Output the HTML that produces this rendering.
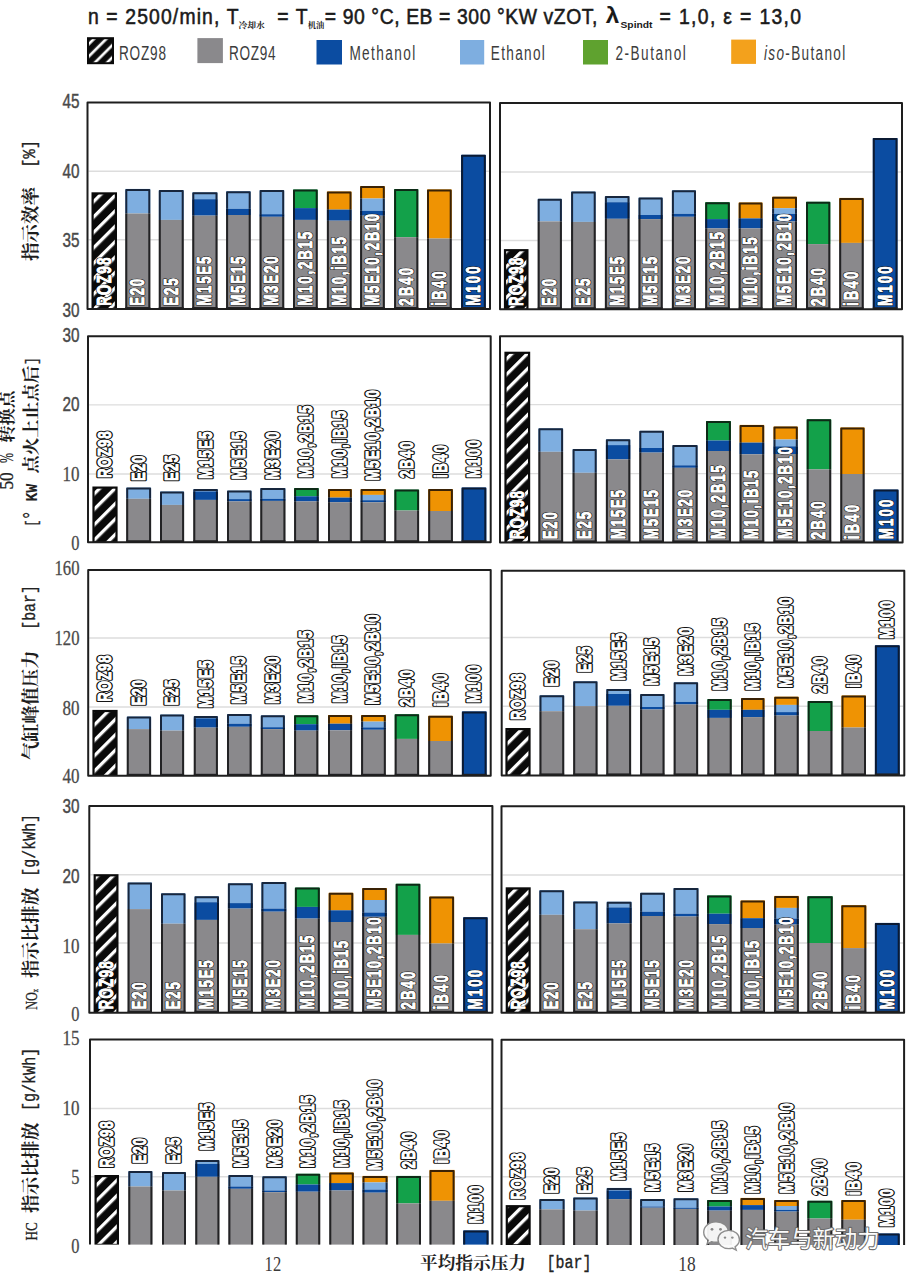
<!DOCTYPE html>
<html><head><meta charset="utf-8"><title>chart</title>
<style>
html,body{margin:0;padding:0;background:#fff;}
body{width:911px;height:1280px;overflow:hidden;position:relative;}
svg{position:absolute;left:0;top:0;}
.lb{font-family:"Liberation Sans",sans-serif;font-weight:bold;font-size:19px;fill:#fff;stroke:#151515;paint-order:stroke;stroke-linejoin:round;}
.tk{font-family:"Liberation Sans",sans-serif;font-size:19.5px;fill:#4a4a4a;stroke:#4a4a4a;stroke-width:0.45px;}
.lg{font-family:"Liberation Sans",sans-serif;font-size:20px;fill:#3c3c3c;}
.ti{font-family:"Liberation Sans",sans-serif;font-weight:normal;font-size:21.5px;fill:#1a1a1a;stroke:#1a1a1a;stroke-width:0.55px;}
.cj{font-family:"Liberation Serif","Noto Serif CJK SC",serif;fill:#222;font-weight:700;}
</style></head>
<body>
<svg width="911" height="1280" viewBox="0 0 911 1280">
<defs>
<pattern id="hatch0" patternUnits="userSpaceOnUse" width="10.9" height="10.9" patternTransform="rotate(-45 0 0)"><rect width="10.9" height="10.9" fill="#0a0a0a"/><rect x="0" y="0" width="10.9" height="3.3" fill="#fff"/></pattern>
<pattern id="hatch1" patternUnits="userSpaceOnUse" width="10.9" height="10.9" patternTransform="rotate(-45 0 0)"><rect width="10.9" height="10.9" fill="#0a0a0a"/><rect x="0" y="0" width="10.9" height="3.3" fill="#fff"/></pattern>
<pattern id="hatch2" patternUnits="userSpaceOnUse" width="10.9" height="10.9" patternTransform="rotate(-45 0 0)"><rect width="10.9" height="10.9" fill="#0a0a0a"/><rect x="0" y="0" width="10.9" height="3.3" fill="#fff"/></pattern>
<pattern id="hatch3" patternUnits="userSpaceOnUse" width="10.9" height="10.9" patternTransform="rotate(-45 0 0)"><rect width="10.9" height="10.9" fill="#0a0a0a"/><rect x="0" y="0" width="10.9" height="3.3" fill="#fff"/></pattern>
<pattern id="hatch4" patternUnits="userSpaceOnUse" width="10.9" height="10.9" patternTransform="rotate(-45 0 0)"><rect width="10.9" height="10.9" fill="#0a0a0a"/><rect x="0" y="0" width="10.9" height="3.3" fill="#fff"/></pattern>
<pattern id="hatch5" patternUnits="userSpaceOnUse" width="10.9" height="10.9" patternTransform="rotate(-45 0 0)"><rect width="10.9" height="10.9" fill="#0a0a0a"/><rect x="0" y="0" width="10.9" height="3.3" fill="#fff"/></pattern>
<pattern id="hatch6" patternUnits="userSpaceOnUse" width="10.9" height="10.9" patternTransform="rotate(-45 0 0)"><rect width="10.9" height="10.9" fill="#0a0a0a"/><rect x="0" y="0" width="10.9" height="3.3" fill="#fff"/></pattern>
<pattern id="hatch7" patternUnits="userSpaceOnUse" width="10.9" height="10.9" patternTransform="rotate(-45 0 0)"><rect width="10.9" height="10.9" fill="#0a0a0a"/><rect x="0" y="0" width="10.9" height="3.3" fill="#fff"/></pattern>
<pattern id="hatch8" patternUnits="userSpaceOnUse" width="10.9" height="10.9" patternTransform="rotate(-45 0 0)"><rect width="10.9" height="10.9" fill="#0a0a0a"/><rect x="0" y="0" width="10.9" height="3.3" fill="#fff"/></pattern>
<pattern id="hatch9" patternUnits="userSpaceOnUse" width="10.9" height="10.9" patternTransform="rotate(-45 0 0)"><rect width="10.9" height="10.9" fill="#0a0a0a"/><rect x="0" y="0" width="10.9" height="3.3" fill="#fff"/></pattern>
<pattern id="hatchL" patternUnits="userSpaceOnUse" width="8.7" height="8.7" patternTransform="rotate(-45 0 0)"><rect width="8.7" height="8.7" fill="#0a0a0a"/><rect x="0" y="5.6" width="8.7" height="2.7" fill="#fff"/></pattern>
</defs>
<rect width="911" height="1280" fill="#fff"/>
<!-- title -->
<text class="ti" transform="translate(87.9 24.4) scale(0.9 1)" textLength="167.33" lengthAdjust="spacing">n = 2500/min, T</text>
<text class="cj" x="238.6" y="28.3" font-size="8.5" textLength="26.3" lengthAdjust="spacingAndGlyphs" font-weight="bold">冷却水</text>
<text class="ti" transform="translate(277.3 24.4) scale(0.9 1)" textLength="33.56" lengthAdjust="spacing">= T</text>
<text class="cj" x="307.7" y="28.3" font-size="8.5" textLength="16.5" lengthAdjust="spacingAndGlyphs" font-weight="bold">机油</text>
<text class="ti" transform="translate(324.8 24.4) scale(0.9 1)" textLength="303" lengthAdjust="spacing">= 90 °C, EB = 300 °KW vZOT,</text>
<text class="ti" x="605.8" y="23.2" style="font-size:21.5px;font-weight:bold;stroke-width:0" textLength="13.5" lengthAdjust="spacingAndGlyphs">λ</text>
<text class="ti" x="620.5" y="27.6" style="font-size:9.6px;font-weight:bold;stroke-width:0" textLength="32" lengthAdjust="spacingAndGlyphs">Spindt</text>
<text class="ti" transform="translate(659.6 24.4) scale(0.9 1)" textLength="157.22" lengthAdjust="spacing">= 1,0, ε = 13,0</text>
<!-- legend -->
<rect x="88" y="38.2" width="25" height="25" fill="url(#hatchL)" stroke="#0a0a0a" stroke-width="2"/>
<text class="lg" transform="translate(119 59.7) scale(0.68 1)" textLength="69.12" lengthAdjust="spacing">ROZ98</text>
<rect x="197.4" y="38.1" width="25.5" height="25" fill="#8a898c"/>
<text class="lg" transform="translate(229 59.7) scale(0.68 1)" textLength="68.53" lengthAdjust="spacing">ROZ94</text>
<rect x="316.5" y="40" width="25.5" height="24.5" fill="#0b4ca1"/>
<text class="lg" transform="translate(349.4 59.7) scale(0.68 1)" textLength="96.77" lengthAdjust="spacing">Methanol</text>
<rect x="460" y="40" width="24.2" height="24.5" fill="#7eaee0"/>
<text class="lg" transform="translate(490.8 59.7) scale(0.68 1)" textLength="79.41" lengthAdjust="spacing">Ethanol</text>
<rect x="583" y="40" width="25" height="24.5" fill="#5fa22f"/>
<text class="lg" transform="translate(615.4 59.7) scale(0.68 1)" textLength="103.53" lengthAdjust="spacing">2-Butanol</text>
<rect x="731.2" y="39.6" width="24.8" height="24.3" fill="#f3a11c"/>
<text class="lg" transform="translate(764 59.7) scale(0.68 1)" textLength="119.56" lengthAdjust="spacing"><tspan font-style="italic">iso</tspan>-Butanol</text>
<!-- panels -->
<clipPath id="c0"><rect x="87.5" y="102.4" width="402.5" height="206.6"/></clipPath>
<line x1="88.5" y1="171.3" x2="489" y2="171.3" stroke="#dddddd" stroke-width="1.4"/>
<line x1="88.5" y1="239.8" x2="489" y2="239.8" stroke="#dddddd" stroke-width="1.4"/>
<rect x="91.5" y="192.3" width="25.5" height="116.7" fill="#0a0a0a"/>
<rect x="93.7" y="194.5" width="21.1" height="113.7" fill="url(#hatch0)"/>
<rect x="125.3" y="188.9" width="25" height="24.6" fill="#7eaee0"/>
<rect x="125.3" y="213.5" width="25" height="95.5" fill="#8a898c"/>
<path d="M126.3 213.5 V189.9 H149.3 V213.5" fill="none" stroke="#17263d" stroke-width="2" stroke-linejoin="round"/>
<path d="M126.3 213.5 V308 M149.3 213.5 V308" fill="none" stroke="#222224" stroke-width="2"/>
<line x1="125.3" y1="308" x2="150.3" y2="308" stroke="#222224" stroke-width="2"/>
<rect x="158.8" y="190" width="24.9" height="29.9" fill="#7eaee0"/>
<rect x="158.8" y="219.9" width="24.9" height="89.1" fill="#8a898c"/>
<path d="M159.8 219.9 V191 H182.7 V219.9" fill="none" stroke="#17263d" stroke-width="2" stroke-linejoin="round"/>
<path d="M159.8 219.9 V308 M182.7 219.9 V308" fill="none" stroke="#222224" stroke-width="2"/>
<line x1="158.8" y1="308" x2="183.7" y2="308" stroke="#222224" stroke-width="2"/>
<rect x="192.3" y="192.3" width="25.2" height="6.9" fill="#7eaee0"/>
<rect x="192.3" y="199.2" width="25.2" height="16.4" fill="#0b4ca1"/>
<rect x="192.3" y="215.6" width="25.2" height="93.4" fill="#8a898c"/>
<path d="M193.3 199.2 V193.3 H216.5 V199.2" fill="none" stroke="#17263d" stroke-width="2" stroke-linejoin="round"/>
<path d="M193.3 199.2 V215.6 M216.5 199.2 V215.6" fill="none" stroke="#0b1a33" stroke-width="2"/>
<path d="M193.3 215.6 V308 M216.5 215.6 V308" fill="none" stroke="#222224" stroke-width="2"/>
<line x1="192.3" y1="308" x2="217.5" y2="308" stroke="#222224" stroke-width="2"/>
<rect x="226.1" y="191.2" width="24.6" height="17.6" fill="#7eaee0"/>
<rect x="226.1" y="208.8" width="24.6" height="6.2" fill="#0b4ca1"/>
<rect x="226.1" y="215" width="24.6" height="94" fill="#8a898c"/>
<path d="M227.1 208.8 V192.2 H249.7 V208.8" fill="none" stroke="#17263d" stroke-width="2" stroke-linejoin="round"/>
<path d="M227.1 208.8 V215 M249.7 208.8 V215" fill="none" stroke="#0b1a33" stroke-width="2"/>
<path d="M227.1 215 V308 M249.7 215 V308" fill="none" stroke="#222224" stroke-width="2"/>
<line x1="226.1" y1="308" x2="250.7" y2="308" stroke="#222224" stroke-width="2"/>
<rect x="259.6" y="190" width="24.6" height="24.2" fill="#7eaee0"/>
<rect x="259.6" y="214.2" width="24.6" height="2.6" fill="#0b4ca1"/>
<rect x="259.6" y="216.8" width="24.6" height="92.2" fill="#8a898c"/>
<path d="M260.6 214.2 V191 H283.2 V214.2" fill="none" stroke="#17263d" stroke-width="2" stroke-linejoin="round"/>
<path d="M260.6 214.2 V216.8 M283.2 214.2 V216.8" fill="none" stroke="#0b1a33" stroke-width="2"/>
<path d="M260.6 216.8 V308 M283.2 216.8 V308" fill="none" stroke="#222224" stroke-width="2"/>
<line x1="259.6" y1="308" x2="284.2" y2="308" stroke="#222224" stroke-width="2"/>
<rect x="293" y="189.5" width="24.7" height="18.6" fill="#13a14a"/>
<rect x="293" y="208.1" width="24.7" height="11.8" fill="#0b4ca1"/>
<rect x="293" y="219.9" width="24.7" height="89.1" fill="#8a898c"/>
<path d="M294 208.1 V190.5 H316.7 V208.1" fill="none" stroke="#0d2a16" stroke-width="2" stroke-linejoin="round"/>
<path d="M294 208.1 V219.9 M316.7 208.1 V219.9" fill="none" stroke="#0b1a33" stroke-width="2"/>
<path d="M294 219.9 V308 M316.7 219.9 V308" fill="none" stroke="#222224" stroke-width="2"/>
<line x1="293" y1="308" x2="317.7" y2="308" stroke="#222224" stroke-width="2"/>
<rect x="326.9" y="191.5" width="24.6" height="18.1" fill="#ef9303"/>
<rect x="326.9" y="209.6" width="24.6" height="11.1" fill="#0b4ca1"/>
<rect x="326.9" y="220.7" width="24.6" height="88.3" fill="#8a898c"/>
<path d="M327.9 209.6 V192.5 H350.5 V209.6" fill="none" stroke="#3a2205" stroke-width="2" stroke-linejoin="round"/>
<path d="M327.9 209.6 V220.7 M350.5 209.6 V220.7" fill="none" stroke="#0b1a33" stroke-width="2"/>
<path d="M327.9 220.7 V308 M350.5 220.7 V308" fill="none" stroke="#222224" stroke-width="2"/>
<line x1="326.9" y1="308" x2="351.5" y2="308" stroke="#222224" stroke-width="2"/>
<rect x="360.1" y="186.1" width="24.7" height="12.4" fill="#ef9303"/>
<rect x="360.1" y="198.5" width="24.7" height="12.3" fill="#7eaee0"/>
<rect x="360.1" y="210.8" width="24.7" height="4.9" fill="#0b4ca1"/>
<rect x="360.1" y="215.7" width="24.7" height="93.3" fill="#8a898c"/>
<path d="M361.1 198.5 V187.1 H383.8 V198.5" fill="none" stroke="#3a2205" stroke-width="2" stroke-linejoin="round"/>
<path d="M361.1 198.5 V210.8 M383.8 198.5 V210.8" fill="none" stroke="#17263d" stroke-width="2"/>
<path d="M361.1 210.8 V215.7 M383.8 210.8 V215.7" fill="none" stroke="#0b1a33" stroke-width="2"/>
<path d="M361.1 215.7 V308 M383.8 215.7 V308" fill="none" stroke="#222224" stroke-width="2"/>
<line x1="360.1" y1="308" x2="384.8" y2="308" stroke="#222224" stroke-width="2"/>
<rect x="394.1" y="189.1" width="24.2" height="48.1" fill="#13a14a"/>
<rect x="394.1" y="237.2" width="24.2" height="71.8" fill="#8a898c"/>
<path d="M395.1 237.2 V190.1 H417.3 V237.2" fill="none" stroke="#0d2a16" stroke-width="2" stroke-linejoin="round"/>
<path d="M395.1 237.2 V308 M417.3 237.2 V308" fill="none" stroke="#222224" stroke-width="2"/>
<line x1="394.1" y1="308" x2="418.3" y2="308" stroke="#222224" stroke-width="2"/>
<rect x="427" y="189.4" width="24.7" height="49.1" fill="#ef9303"/>
<rect x="427" y="238.5" width="24.7" height="70.5" fill="#8a898c"/>
<path d="M428 238.5 V190.4 H450.7 V238.5" fill="none" stroke="#3a2205" stroke-width="2" stroke-linejoin="round"/>
<path d="M428 238.5 V308 M450.7 238.5 V308" fill="none" stroke="#222224" stroke-width="2"/>
<line x1="427" y1="308" x2="451.7" y2="308" stroke="#222224" stroke-width="2"/>
<rect x="461.1" y="154.8" width="24.7" height="154.2" fill="#0b4ca1"/>
<path d="M462.1 308 V155.8 H484.8 V308" fill="none" stroke="#0b1a33" stroke-width="2" stroke-linejoin="round"/>
<line x1="461.1" y1="308" x2="485.8" y2="308" stroke="#222224" stroke-width="2"/>
<rect x="87.5" y="102.4" width="402.5" height="206.6" fill="none" stroke="#1e1e1e" stroke-width="2" stroke-linejoin="round"/>
<text transform="translate(110.79 305.8) rotate(-90) scale(0.65 1)" class="lb" textLength="73.98" lengthAdjust="spacing" stroke-width="2.2" style="font-size:20.5px">ROZ98</text>
<text transform="translate(110.79 305.8) rotate(-90) scale(0.65 1)" class="lb" textLength="73.98" lengthAdjust="spacing" stroke-width="0.7" style="stroke:#fff;font-size:20.5px">ROZ98</text>
<text transform="translate(144.34 305.8) rotate(-90) scale(0.65 1)" class="lb" textLength="41.62" lengthAdjust="spacing" stroke-width="2.2" style="font-size:20.5px">E20</text>
<text transform="translate(144.34 305.8) rotate(-90) scale(0.65 1)" class="lb" textLength="41.62" lengthAdjust="spacing" stroke-width="0.7" style="stroke:#fff;font-size:20.5px">E20</text>
<text transform="translate(177.79 305.8) rotate(-90) scale(0.65 1)" class="lb" textLength="42.08" lengthAdjust="spacing" stroke-width="2.2" style="font-size:20.5px">E25</text>
<text transform="translate(177.79 305.8) rotate(-90) scale(0.65 1)" class="lb" textLength="42.08" lengthAdjust="spacing" stroke-width="0.7" style="stroke:#fff;font-size:20.5px">E25</text>
<text transform="translate(211.44 305.8) rotate(-90) scale(0.65 1)" class="lb" textLength="75.53" lengthAdjust="spacing" stroke-width="2.2" style="font-size:20.5px">M15E5</text>
<text transform="translate(211.44 305.8) rotate(-90) scale(0.65 1)" class="lb" textLength="75.53" lengthAdjust="spacing" stroke-width="0.7" style="stroke:#fff;font-size:20.5px">M15E5</text>
<text transform="translate(244.94 305.8) rotate(-90) scale(0.65 1)" class="lb" textLength="75.68" lengthAdjust="spacing" stroke-width="2.2" style="font-size:20.5px">M5E15</text>
<text transform="translate(244.94 305.8) rotate(-90) scale(0.65 1)" class="lb" textLength="75.68" lengthAdjust="spacing" stroke-width="0.7" style="stroke:#fff;font-size:20.5px">M5E15</text>
<text transform="translate(278.44 305.8) rotate(-90) scale(0.65 1)" class="lb" textLength="75.99" lengthAdjust="spacing" stroke-width="2.2" style="font-size:20.5px">M3E20</text>
<text transform="translate(278.44 305.8) rotate(-90) scale(0.65 1)" class="lb" textLength="75.99" lengthAdjust="spacing" stroke-width="0.7" style="stroke:#fff;font-size:20.5px">M3E20</text>
<text transform="translate(311.89 305.8) rotate(-90) scale(0.65 1)" class="lb" textLength="113.75" lengthAdjust="spacing" stroke-width="2.2" style="font-size:20.5px">M10,2B15</text>
<text transform="translate(311.89 305.8) rotate(-90) scale(0.65 1)" class="lb" textLength="113.75" lengthAdjust="spacing" stroke-width="0.7" style="stroke:#fff;font-size:20.5px">M10,2B15</text>
<text transform="translate(345.74 305.8) rotate(-90) scale(0.65 1)" class="lb" textLength="105.58" lengthAdjust="spacing" stroke-width="2.2" style="font-size:20.5px">M10,iB15</text>
<text transform="translate(345.74 305.8) rotate(-90) scale(0.65 1)" class="lb" textLength="105.58" lengthAdjust="spacing" stroke-width="0.7" style="stroke:#fff;font-size:20.5px">M10,iB15</text>
<text transform="translate(378.99 305.8) rotate(-90) scale(0.65 1)" class="lb" textLength="141.65" lengthAdjust="spacing" stroke-width="2.2" style="font-size:20.5px">M5E10,2B10</text>
<text transform="translate(378.99 305.8) rotate(-90) scale(0.65 1)" class="lb" textLength="141.65" lengthAdjust="spacing" stroke-width="0.7" style="stroke:#fff;font-size:20.5px">M5E10,2B10</text>
<text transform="translate(412.74 305.8) rotate(-90) scale(0.65 1)" class="lb" textLength="58.42" lengthAdjust="spacing" stroke-width="2.2" style="font-size:20.5px">2B40</text>
<text transform="translate(412.74 305.8) rotate(-90) scale(0.65 1)" class="lb" textLength="58.42" lengthAdjust="spacing" stroke-width="0.7" style="stroke:#fff;font-size:20.5px">2B40</text>
<text transform="translate(445.89 305.8) rotate(-90) scale(0.65 1)" class="lb" textLength="52.87" lengthAdjust="spacing" stroke-width="2.2" style="font-size:20.5px">iB40</text>
<text transform="translate(445.89 305.8) rotate(-90) scale(0.65 1)" class="lb" textLength="52.87" lengthAdjust="spacing" stroke-width="0.7" style="stroke:#fff;font-size:20.5px">iB40</text>
<text transform="translate(479.99 305.8) rotate(-90) scale(0.65 1)" class="lb" textLength="60.88" lengthAdjust="spacing" stroke-width="2.2" style="font-size:20.5px">M100</text>
<text transform="translate(479.99 305.8) rotate(-90) scale(0.65 1)" class="lb" textLength="60.88" lengthAdjust="spacing" stroke-width="0.7" style="stroke:#fff;font-size:20.5px">M100</text>
<clipPath id="c1"><rect x="500" y="103" width="402" height="206.2"/></clipPath>
<line x1="501" y1="172" x2="901" y2="172" stroke="#dddddd" stroke-width="1.4"/>
<line x1="501" y1="240.5" x2="901" y2="240.5" stroke="#dddddd" stroke-width="1.4"/>
<rect x="503.9" y="249.1" width="24.6" height="60.1" fill="#0a0a0a"/>
<rect x="506.1" y="251.3" width="20.2" height="57.1" fill="url(#hatch1)"/>
<rect x="537.7" y="198.8" width="24.2" height="22.6" fill="#7eaee0"/>
<rect x="537.7" y="221.4" width="24.2" height="87.8" fill="#8a898c"/>
<path d="M538.7 221.4 V199.8 H560.9 V221.4" fill="none" stroke="#17263d" stroke-width="2" stroke-linejoin="round"/>
<path d="M538.7 221.4 V308.2 M560.9 221.4 V308.2" fill="none" stroke="#222224" stroke-width="2"/>
<line x1="537.7" y1="308.2" x2="561.9" y2="308.2" stroke="#222224" stroke-width="2"/>
<rect x="571.1" y="191.5" width="24.6" height="30.4" fill="#7eaee0"/>
<rect x="571.1" y="221.9" width="24.6" height="87.3" fill="#8a898c"/>
<path d="M572.1 221.9 V192.5 H594.7 V221.9" fill="none" stroke="#17263d" stroke-width="2" stroke-linejoin="round"/>
<path d="M572.1 221.9 V308.2 M594.7 221.9 V308.2" fill="none" stroke="#222224" stroke-width="2"/>
<line x1="571.1" y1="308.2" x2="595.7" y2="308.2" stroke="#222224" stroke-width="2"/>
<rect x="604.9" y="196.1" width="24.6" height="6.1" fill="#7eaee0"/>
<rect x="604.9" y="202.2" width="24.6" height="16.6" fill="#0b4ca1"/>
<rect x="604.9" y="218.8" width="24.6" height="90.4" fill="#8a898c"/>
<path d="M605.9 202.2 V197.1 H628.5 V202.2" fill="none" stroke="#17263d" stroke-width="2" stroke-linejoin="round"/>
<path d="M605.9 202.2 V218.8 M628.5 202.2 V218.8" fill="none" stroke="#0b1a33" stroke-width="2"/>
<path d="M605.9 218.8 V308.2 M628.5 218.8 V308.2" fill="none" stroke="#222224" stroke-width="2"/>
<line x1="604.9" y1="308.2" x2="629.5" y2="308.2" stroke="#222224" stroke-width="2"/>
<rect x="638.5" y="197.6" width="24.2" height="17.4" fill="#7eaee0"/>
<rect x="638.5" y="215" width="24.2" height="4.1" fill="#0b4ca1"/>
<rect x="638.5" y="219.1" width="24.2" height="90.1" fill="#8a898c"/>
<path d="M639.5 215 V198.6 H661.7 V215" fill="none" stroke="#17263d" stroke-width="2" stroke-linejoin="round"/>
<path d="M639.5 215 V219.1 M661.7 215 V219.1" fill="none" stroke="#0b1a33" stroke-width="2"/>
<path d="M639.5 219.1 V308.2 M661.7 219.1 V308.2" fill="none" stroke="#222224" stroke-width="2"/>
<line x1="638.5" y1="308.2" x2="662.7" y2="308.2" stroke="#222224" stroke-width="2"/>
<rect x="671.9" y="190.2" width="24.1" height="23.6" fill="#7eaee0"/>
<rect x="671.9" y="213.8" width="24.1" height="3" fill="#0b4ca1"/>
<rect x="671.9" y="216.8" width="24.1" height="92.4" fill="#8a898c"/>
<path d="M672.9 213.8 V191.2 H695 V213.8" fill="none" stroke="#17263d" stroke-width="2" stroke-linejoin="round"/>
<path d="M672.9 213.8 V216.8 M695 213.8 V216.8" fill="none" stroke="#0b1a33" stroke-width="2"/>
<path d="M672.9 216.8 V308.2 M695 216.8 V308.2" fill="none" stroke="#222224" stroke-width="2"/>
<line x1="671.9" y1="308.2" x2="696" y2="308.2" stroke="#222224" stroke-width="2"/>
<rect x="705.2" y="202.2" width="24.6" height="16.9" fill="#13a14a"/>
<rect x="705.2" y="219.1" width="24.6" height="9.3" fill="#0b4ca1"/>
<rect x="705.2" y="228.4" width="24.6" height="80.8" fill="#8a898c"/>
<path d="M706.2 219.1 V203.2 H728.8 V219.1" fill="none" stroke="#0d2a16" stroke-width="2" stroke-linejoin="round"/>
<path d="M706.2 219.1 V228.4 M728.8 219.1 V228.4" fill="none" stroke="#0b1a33" stroke-width="2"/>
<path d="M706.2 228.4 V308.2 M728.8 228.4 V308.2" fill="none" stroke="#222224" stroke-width="2"/>
<line x1="705.2" y1="308.2" x2="729.8" y2="308.2" stroke="#222224" stroke-width="2"/>
<rect x="738.7" y="202.5" width="23.8" height="15.9" fill="#ef9303"/>
<rect x="738.7" y="218.4" width="23.8" height="10" fill="#0b4ca1"/>
<rect x="738.7" y="228.4" width="23.8" height="80.8" fill="#8a898c"/>
<path d="M739.7 218.4 V203.5 H761.5 V218.4" fill="none" stroke="#3a2205" stroke-width="2" stroke-linejoin="round"/>
<path d="M739.7 218.4 V228.4 M761.5 218.4 V228.4" fill="none" stroke="#0b1a33" stroke-width="2"/>
<path d="M739.7 228.4 V308.2 M761.5 228.4 V308.2" fill="none" stroke="#222224" stroke-width="2"/>
<line x1="738.7" y1="308.2" x2="762.5" y2="308.2" stroke="#222224" stroke-width="2"/>
<rect x="772.1" y="196.7" width="24.9" height="11.5" fill="#ef9303"/>
<rect x="772.1" y="208.2" width="24.9" height="5.6" fill="#7eaee0"/>
<rect x="772.1" y="213.8" width="24.9" height="7.7" fill="#0b4ca1"/>
<rect x="772.1" y="221.5" width="24.9" height="87.7" fill="#8a898c"/>
<path d="M773.1 208.2 V197.7 H796 V208.2" fill="none" stroke="#3a2205" stroke-width="2" stroke-linejoin="round"/>
<path d="M773.1 208.2 V213.8 M796 208.2 V213.8" fill="none" stroke="#17263d" stroke-width="2"/>
<path d="M773.1 213.8 V221.5 M796 213.8 V221.5" fill="none" stroke="#0b1a33" stroke-width="2"/>
<path d="M773.1 221.5 V308.2 M796 221.5 V308.2" fill="none" stroke="#222224" stroke-width="2"/>
<line x1="772.1" y1="308.2" x2="797" y2="308.2" stroke="#222224" stroke-width="2"/>
<rect x="806" y="201.8" width="24.3" height="42.3" fill="#13a14a"/>
<rect x="806" y="244.1" width="24.3" height="65.1" fill="#8a898c"/>
<path d="M807 244.1 V202.8 H829.3 V244.1" fill="none" stroke="#0d2a16" stroke-width="2" stroke-linejoin="round"/>
<path d="M807 244.1 V308.2 M829.3 244.1 V308.2" fill="none" stroke="#222224" stroke-width="2"/>
<line x1="806" y1="308.2" x2="830.3" y2="308.2" stroke="#222224" stroke-width="2"/>
<rect x="839.2" y="197.9" width="24.5" height="45" fill="#ef9303"/>
<rect x="839.2" y="242.9" width="24.5" height="66.3" fill="#8a898c"/>
<path d="M840.2 242.9 V198.9 H862.7 V242.9" fill="none" stroke="#3a2205" stroke-width="2" stroke-linejoin="round"/>
<path d="M840.2 242.9 V308.2 M862.7 242.9 V308.2" fill="none" stroke="#222224" stroke-width="2"/>
<line x1="839.2" y1="308.2" x2="863.7" y2="308.2" stroke="#222224" stroke-width="2"/>
<rect x="872.8" y="138" width="24.7" height="171.2" fill="#0b4ca1"/>
<path d="M873.8 308.2 V139 H896.5 V308.2" fill="none" stroke="#0b1a33" stroke-width="2" stroke-linejoin="round"/>
<line x1="872.8" y1="308.2" x2="897.5" y2="308.2" stroke="#222224" stroke-width="2"/>
<rect x="500" y="103" width="402" height="206.2" fill="none" stroke="#1e1e1e" stroke-width="2" stroke-linejoin="round"/>
<text transform="translate(522.74 306) rotate(-90) scale(0.65 1)" class="lb" textLength="73.98" lengthAdjust="spacing" stroke-width="2.2" style="font-size:20.5px">ROZ98</text>
<text transform="translate(522.74 306) rotate(-90) scale(0.65 1)" class="lb" textLength="73.98" lengthAdjust="spacing" stroke-width="0.7" style="stroke:#fff;font-size:20.5px">ROZ98</text>
<text transform="translate(556.34 306) rotate(-90) scale(0.65 1)" class="lb" textLength="41.62" lengthAdjust="spacing" stroke-width="2.2" style="font-size:20.5px">E20</text>
<text transform="translate(556.34 306) rotate(-90) scale(0.65 1)" class="lb" textLength="41.62" lengthAdjust="spacing" stroke-width="0.7" style="stroke:#fff;font-size:20.5px">E20</text>
<text transform="translate(589.94 306) rotate(-90) scale(0.65 1)" class="lb" textLength="42.08" lengthAdjust="spacing" stroke-width="2.2" style="font-size:20.5px">E25</text>
<text transform="translate(589.94 306) rotate(-90) scale(0.65 1)" class="lb" textLength="42.08" lengthAdjust="spacing" stroke-width="0.7" style="stroke:#fff;font-size:20.5px">E25</text>
<text transform="translate(623.74 306) rotate(-90) scale(0.65 1)" class="lb" textLength="75.53" lengthAdjust="spacing" stroke-width="2.2" style="font-size:20.5px">M15E5</text>
<text transform="translate(623.74 306) rotate(-90) scale(0.65 1)" class="lb" textLength="75.53" lengthAdjust="spacing" stroke-width="0.7" style="stroke:#fff;font-size:20.5px">M15E5</text>
<text transform="translate(657.14 306) rotate(-90) scale(0.65 1)" class="lb" textLength="75.68" lengthAdjust="spacing" stroke-width="2.2" style="font-size:20.5px">M5E15</text>
<text transform="translate(657.14 306) rotate(-90) scale(0.65 1)" class="lb" textLength="75.68" lengthAdjust="spacing" stroke-width="0.7" style="stroke:#fff;font-size:20.5px">M5E15</text>
<text transform="translate(690.49 306) rotate(-90) scale(0.65 1)" class="lb" textLength="75.99" lengthAdjust="spacing" stroke-width="2.2" style="font-size:20.5px">M3E20</text>
<text transform="translate(690.49 306) rotate(-90) scale(0.65 1)" class="lb" textLength="75.99" lengthAdjust="spacing" stroke-width="0.7" style="stroke:#fff;font-size:20.5px">M3E20</text>
<text transform="translate(724.04 306) rotate(-90) scale(0.65 1)" class="lb" textLength="113.75" lengthAdjust="spacing" stroke-width="2.2" style="font-size:20.5px">M10,2B15</text>
<text transform="translate(724.04 306) rotate(-90) scale(0.65 1)" class="lb" textLength="113.75" lengthAdjust="spacing" stroke-width="0.7" style="stroke:#fff;font-size:20.5px">M10,2B15</text>
<text transform="translate(757.14 306) rotate(-90) scale(0.65 1)" class="lb" textLength="105.58" lengthAdjust="spacing" stroke-width="2.2" style="font-size:20.5px">M10,iB15</text>
<text transform="translate(757.14 306) rotate(-90) scale(0.65 1)" class="lb" textLength="105.58" lengthAdjust="spacing" stroke-width="0.7" style="stroke:#fff;font-size:20.5px">M10,iB15</text>
<text transform="translate(791.09 306) rotate(-90) scale(0.65 1)" class="lb" textLength="141.65" lengthAdjust="spacing" stroke-width="2.2" style="font-size:20.5px">M5E10,2B10</text>
<text transform="translate(791.09 306) rotate(-90) scale(0.65 1)" class="lb" textLength="141.65" lengthAdjust="spacing" stroke-width="0.7" style="stroke:#fff;font-size:20.5px">M5E10,2B10</text>
<text transform="translate(824.69 306) rotate(-90) scale(0.65 1)" class="lb" textLength="58.42" lengthAdjust="spacing" stroke-width="2.2" style="font-size:20.5px">2B40</text>
<text transform="translate(824.69 306) rotate(-90) scale(0.65 1)" class="lb" textLength="58.42" lengthAdjust="spacing" stroke-width="0.7" style="stroke:#fff;font-size:20.5px">2B40</text>
<text transform="translate(857.99 306) rotate(-90) scale(0.65 1)" class="lb" textLength="52.87" lengthAdjust="spacing" stroke-width="2.2" style="font-size:20.5px">iB40</text>
<text transform="translate(857.99 306) rotate(-90) scale(0.65 1)" class="lb" textLength="52.87" lengthAdjust="spacing" stroke-width="0.7" style="stroke:#fff;font-size:20.5px">iB40</text>
<text transform="translate(891.69 306) rotate(-90) scale(0.65 1)" class="lb" textLength="60.88" lengthAdjust="spacing" stroke-width="2.2" style="font-size:20.5px">M100</text>
<text transform="translate(891.69 306) rotate(-90) scale(0.65 1)" class="lb" textLength="60.88" lengthAdjust="spacing" stroke-width="0.7" style="stroke:#fff;font-size:20.5px">M100</text>
<clipPath id="c2"><rect x="88" y="336.3" width="402.7" height="205.9"/></clipPath>
<line x1="89" y1="404.9" x2="489.7" y2="404.9" stroke="#dddddd" stroke-width="1.4"/>
<line x1="89" y1="474" x2="489.7" y2="474" stroke="#dddddd" stroke-width="1.4"/>
<rect x="92.4" y="486.5" width="25.2" height="55.7" fill="#0a0a0a"/>
<rect x="94.6" y="488.7" width="20.8" height="52.7" fill="url(#hatch2)"/>
<rect x="126.2" y="487.6" width="24.9" height="11.2" fill="#7eaee0"/>
<rect x="126.2" y="498.8" width="24.9" height="43.4" fill="#8a898c"/>
<path d="M127.2 498.8 V488.6 H150.1 V498.8" fill="none" stroke="#17263d" stroke-width="2" stroke-linejoin="round"/>
<path d="M127.2 498.8 V541.2 M150.1 498.8 V541.2" fill="none" stroke="#222224" stroke-width="2"/>
<line x1="126.2" y1="541.2" x2="151.1" y2="541.2" stroke="#222224" stroke-width="2"/>
<rect x="160" y="491.4" width="24.1" height="13.5" fill="#7eaee0"/>
<rect x="160" y="504.9" width="24.1" height="37.3" fill="#8a898c"/>
<path d="M161 504.9 V492.4 H183.1 V504.9" fill="none" stroke="#17263d" stroke-width="2" stroke-linejoin="round"/>
<path d="M161 504.9 V541.2 M183.1 504.9 V541.2" fill="none" stroke="#222224" stroke-width="2"/>
<line x1="160" y1="541.2" x2="184.1" y2="541.2" stroke="#222224" stroke-width="2"/>
<rect x="193.3" y="489.1" width="24.6" height="2.3" fill="#7eaee0"/>
<rect x="193.3" y="491.4" width="24.6" height="8.5" fill="#0b4ca1"/>
<rect x="193.3" y="499.9" width="24.6" height="42.3" fill="#8a898c"/>
<path d="M194.3 491.4 V490.1 H216.9 V491.4" fill="none" stroke="#17263d" stroke-width="2" stroke-linejoin="round"/>
<path d="M194.3 491.4 V499.9 M216.9 491.4 V499.9" fill="none" stroke="#0b1a33" stroke-width="2"/>
<path d="M194.3 499.9 V541.2 M216.9 499.9 V541.2" fill="none" stroke="#222224" stroke-width="2"/>
<line x1="193.3" y1="541.2" x2="217.9" y2="541.2" stroke="#222224" stroke-width="2"/>
<rect x="227" y="490.6" width="24.6" height="8.5" fill="#7eaee0"/>
<rect x="227" y="499.1" width="24.6" height="2.3" fill="#0b4ca1"/>
<rect x="227" y="501.4" width="24.6" height="40.8" fill="#8a898c"/>
<path d="M228 499.1 V491.6 H250.6 V499.1" fill="none" stroke="#17263d" stroke-width="2" stroke-linejoin="round"/>
<path d="M228 499.1 V501.4 M250.6 499.1 V501.4" fill="none" stroke="#0b1a33" stroke-width="2"/>
<path d="M228 501.4 V541.2 M250.6 501.4 V541.2" fill="none" stroke="#222224" stroke-width="2"/>
<line x1="227" y1="541.2" x2="251.6" y2="541.2" stroke="#222224" stroke-width="2"/>
<rect x="260.3" y="488" width="25.1" height="10.8" fill="#7eaee0"/>
<rect x="260.3" y="498.8" width="25.1" height="2.1" fill="#0b4ca1"/>
<rect x="260.3" y="500.9" width="25.1" height="41.3" fill="#8a898c"/>
<path d="M261.3 498.8 V489 H284.4 V498.8" fill="none" stroke="#17263d" stroke-width="2" stroke-linejoin="round"/>
<path d="M261.3 498.8 V500.9 M284.4 498.8 V500.9" fill="none" stroke="#0b1a33" stroke-width="2"/>
<path d="M261.3 500.9 V541.2 M284.4 500.9 V541.2" fill="none" stroke="#222224" stroke-width="2"/>
<line x1="260.3" y1="541.2" x2="285.4" y2="541.2" stroke="#222224" stroke-width="2"/>
<rect x="294.1" y="488" width="24.6" height="8.3" fill="#13a14a"/>
<rect x="294.1" y="496.3" width="24.6" height="5.1" fill="#0b4ca1"/>
<rect x="294.1" y="501.4" width="24.6" height="40.8" fill="#8a898c"/>
<path d="M295.1 496.3 V489 H317.7 V496.3" fill="none" stroke="#0d2a16" stroke-width="2" stroke-linejoin="round"/>
<path d="M295.1 496.3 V501.4 M317.7 496.3 V501.4" fill="none" stroke="#0b1a33" stroke-width="2"/>
<path d="M295.1 501.4 V541.2 M317.7 501.4 V541.2" fill="none" stroke="#222224" stroke-width="2"/>
<line x1="294.1" y1="541.2" x2="318.7" y2="541.2" stroke="#222224" stroke-width="2"/>
<rect x="328" y="489.1" width="23.8" height="8.5" fill="#ef9303"/>
<rect x="328" y="497.6" width="23.8" height="4.6" fill="#0b4ca1"/>
<rect x="328" y="502.2" width="23.8" height="40" fill="#8a898c"/>
<path d="M329 497.6 V490.1 H350.8 V497.6" fill="none" stroke="#3a2205" stroke-width="2" stroke-linejoin="round"/>
<path d="M329 497.6 V502.2 M350.8 497.6 V502.2" fill="none" stroke="#0b1a33" stroke-width="2"/>
<path d="M329 502.2 V541.2 M350.8 502.2 V541.2" fill="none" stroke="#222224" stroke-width="2"/>
<line x1="328" y1="541.2" x2="351.8" y2="541.2" stroke="#222224" stroke-width="2"/>
<rect x="360.6" y="489.1" width="25.2" height="5.8" fill="#ef9303"/>
<rect x="360.6" y="494.9" width="25.2" height="5.3" fill="#7eaee0"/>
<rect x="360.6" y="500.2" width="25.2" height="2.1" fill="#0b4ca1"/>
<rect x="360.6" y="502.3" width="25.2" height="39.9" fill="#8a898c"/>
<path d="M361.6 494.9 V490.1 H384.8 V494.9" fill="none" stroke="#3a2205" stroke-width="2" stroke-linejoin="round"/>
<path d="M361.6 494.9 V500.2 M384.8 494.9 V500.2" fill="none" stroke="#17263d" stroke-width="2"/>
<path d="M361.6 500.2 V502.3 M384.8 500.2 V502.3" fill="none" stroke="#0b1a33" stroke-width="2"/>
<path d="M361.6 502.3 V541.2 M384.8 502.3 V541.2" fill="none" stroke="#222224" stroke-width="2"/>
<line x1="360.6" y1="541.2" x2="385.8" y2="541.2" stroke="#222224" stroke-width="2"/>
<rect x="394.4" y="489.6" width="24.7" height="20.9" fill="#13a14a"/>
<rect x="394.4" y="510.5" width="24.7" height="31.7" fill="#8a898c"/>
<path d="M395.4 510.5 V490.6 H418.1 V510.5" fill="none" stroke="#0d2a16" stroke-width="2" stroke-linejoin="round"/>
<path d="M395.4 510.5 V541.2 M418.1 510.5 V541.2" fill="none" stroke="#222224" stroke-width="2"/>
<line x1="394.4" y1="541.2" x2="419.1" y2="541.2" stroke="#222224" stroke-width="2"/>
<rect x="428.2" y="489.1" width="24.7" height="21.9" fill="#ef9303"/>
<rect x="428.2" y="511" width="24.7" height="31.2" fill="#8a898c"/>
<path d="M429.2 511 V490.1 H451.9 V511" fill="none" stroke="#3a2205" stroke-width="2" stroke-linejoin="round"/>
<path d="M429.2 511 V541.2 M451.9 511 V541.2" fill="none" stroke="#222224" stroke-width="2"/>
<line x1="428.2" y1="541.2" x2="452.9" y2="541.2" stroke="#222224" stroke-width="2"/>
<rect x="461.6" y="487.5" width="24.7" height="54.7" fill="#0b4ca1"/>
<path d="M462.6 541.2 V488.5 H485.3 V541.2" fill="none" stroke="#0b1a33" stroke-width="2" stroke-linejoin="round"/>
<line x1="461.6" y1="541.2" x2="486.3" y2="541.2" stroke="#222224" stroke-width="2"/>
<rect x="88" y="336.3" width="402.7" height="205.9" fill="none" stroke="#1e1e1e" stroke-width="2" stroke-linejoin="round"/>
<text transform="translate(111 477.9) rotate(-90) scale(0.7 1)" class="lb" textLength="66.43" lengthAdjust="spacing" stroke-width="3.6" style="font-size:19px">ROZ98</text>
<text transform="translate(111 477.9) rotate(-90) scale(0.7 1)" class="lb" textLength="66.43" lengthAdjust="spacing" stroke-width="0.7" style="stroke:#fff;font-size:19px">ROZ98</text>
<text transform="translate(144.65 481) rotate(-90) scale(0.7 1)" class="lb" textLength="36.43" lengthAdjust="spacing" stroke-width="3.6" style="font-size:19px">E20</text>
<text transform="translate(144.65 481) rotate(-90) scale(0.7 1)" class="lb" textLength="36.43" lengthAdjust="spacing" stroke-width="0.7" style="stroke:#fff;font-size:19px">E20</text>
<text transform="translate(178.05 481) rotate(-90) scale(0.7 1)" class="lb" textLength="36.86" lengthAdjust="spacing" stroke-width="3.6" style="font-size:19px">E25</text>
<text transform="translate(178.05 481) rotate(-90) scale(0.7 1)" class="lb" textLength="36.86" lengthAdjust="spacing" stroke-width="0.7" style="stroke:#fff;font-size:19px">E25</text>
<text transform="translate(211.6 479) rotate(-90) scale(0.7 1)" class="lb" textLength="67.86" lengthAdjust="spacing" stroke-width="3.6" style="font-size:19px">M15E5</text>
<text transform="translate(211.6 479) rotate(-90) scale(0.7 1)" class="lb" textLength="67.86" lengthAdjust="spacing" stroke-width="0.7" style="stroke:#fff;font-size:19px">M15E5</text>
<text transform="translate(245.3 479.5) rotate(-90) scale(0.7 1)" class="lb" textLength="68" lengthAdjust="spacing" stroke-width="3.6" style="font-size:19px">M5E15</text>
<text transform="translate(245.3 479.5) rotate(-90) scale(0.7 1)" class="lb" textLength="68" lengthAdjust="spacing" stroke-width="0.7" style="stroke:#fff;font-size:19px">M5E15</text>
<text transform="translate(278.85 479.5) rotate(-90) scale(0.7 1)" class="lb" textLength="68.29" lengthAdjust="spacing" stroke-width="3.6" style="font-size:19px">M3E20</text>
<text transform="translate(278.85 479.5) rotate(-90) scale(0.7 1)" class="lb" textLength="68.29" lengthAdjust="spacing" stroke-width="0.7" style="stroke:#fff;font-size:19px">M3E20</text>
<text transform="translate(312.4 477.9) rotate(-90) scale(0.7 1)" class="lb" textLength="103.29" lengthAdjust="spacing" stroke-width="3.6" style="font-size:19px">M10,2B15</text>
<text transform="translate(312.4 477.9) rotate(-90) scale(0.7 1)" class="lb" textLength="103.29" lengthAdjust="spacing" stroke-width="0.7" style="stroke:#fff;font-size:19px">M10,2B15</text>
<text transform="translate(345.9 477.9) rotate(-90) scale(0.7 1)" class="lb" textLength="95.71" lengthAdjust="spacing" stroke-width="3.6" style="font-size:19px">M10,iB15</text>
<text transform="translate(345.9 477.9) rotate(-90) scale(0.7 1)" class="lb" textLength="95.71" lengthAdjust="spacing" stroke-width="0.7" style="stroke:#fff;font-size:19px">M10,iB15</text>
<text transform="translate(379.2 480.5) rotate(-90) scale(0.7 1)" class="lb" textLength="129.14" lengthAdjust="spacing" stroke-width="3.6" style="font-size:19px">M5E10,2B10</text>
<text transform="translate(379.2 480.5) rotate(-90) scale(0.7 1)" class="lb" textLength="129.14" lengthAdjust="spacing" stroke-width="0.7" style="stroke:#fff;font-size:19px">M5E10,2B10</text>
<text transform="translate(412.75 478) rotate(-90) scale(0.7 1)" class="lb" textLength="52" lengthAdjust="spacing" stroke-width="3.6" style="font-size:19px">2B40</text>
<text transform="translate(412.75 478) rotate(-90) scale(0.7 1)" class="lb" textLength="52" lengthAdjust="spacing" stroke-width="0.7" style="stroke:#fff;font-size:19px">2B40</text>
<text transform="translate(446.55 478) rotate(-90) scale(0.7 1)" class="lb" textLength="46.86" lengthAdjust="spacing" stroke-width="3.6" style="font-size:19px">iB40</text>
<text transform="translate(446.55 478) rotate(-90) scale(0.7 1)" class="lb" textLength="46.86" lengthAdjust="spacing" stroke-width="0.7" style="stroke:#fff;font-size:19px">iB40</text>
<text transform="translate(479.95 478) rotate(-90) scale(0.7 1)" class="lb" textLength="54.29" lengthAdjust="spacing" stroke-width="3.6" style="font-size:19px">M100</text>
<text transform="translate(479.95 478) rotate(-90) scale(0.7 1)" class="lb" textLength="54.29" lengthAdjust="spacing" stroke-width="0.7" style="stroke:#fff;font-size:19px">M100</text>
<clipPath id="c3"><rect x="500" y="336.3" width="402.6" height="206.1"/></clipPath>
<line x1="501" y1="404.6" x2="901.6" y2="404.6" stroke="#dddddd" stroke-width="1.4"/>
<line x1="501" y1="473.6" x2="901.6" y2="473.6" stroke="#dddddd" stroke-width="1.4"/>
<rect x="504.4" y="351.7" width="25.8" height="190.7" fill="#0a0a0a"/>
<rect x="506.6" y="353.9" width="21.4" height="187.7" fill="url(#hatch3)"/>
<rect x="538.4" y="428.3" width="24.7" height="23.5" fill="#7eaee0"/>
<rect x="538.4" y="451.8" width="24.7" height="90.6" fill="#8a898c"/>
<path d="M539.4 451.8 V429.3 H562.1 V451.8" fill="none" stroke="#17263d" stroke-width="2" stroke-linejoin="round"/>
<path d="M539.4 451.8 V541.4 M562.1 451.8 V541.4" fill="none" stroke="#222224" stroke-width="2"/>
<line x1="538.4" y1="541.4" x2="563.1" y2="541.4" stroke="#222224" stroke-width="2"/>
<rect x="572.6" y="449" width="24.1" height="23.8" fill="#7eaee0"/>
<rect x="572.6" y="472.8" width="24.1" height="69.6" fill="#8a898c"/>
<path d="M573.6 472.8 V450 H595.7 V472.8" fill="none" stroke="#17263d" stroke-width="2" stroke-linejoin="round"/>
<path d="M573.6 472.8 V541.4 M595.7 472.8 V541.4" fill="none" stroke="#222224" stroke-width="2"/>
<line x1="572.6" y1="541.4" x2="596.7" y2="541.4" stroke="#222224" stroke-width="2"/>
<rect x="605.9" y="439.2" width="24.4" height="5.9" fill="#7eaee0"/>
<rect x="605.9" y="445.1" width="24.4" height="14.3" fill="#0b4ca1"/>
<rect x="605.9" y="459.4" width="24.4" height="83" fill="#8a898c"/>
<path d="M606.9 445.1 V440.2 H629.3 V445.1" fill="none" stroke="#17263d" stroke-width="2" stroke-linejoin="round"/>
<path d="M606.9 445.1 V459.4 M629.3 445.1 V459.4" fill="none" stroke="#0b1a33" stroke-width="2"/>
<path d="M606.9 459.4 V541.4 M629.3 459.4 V541.4" fill="none" stroke="#222224" stroke-width="2"/>
<line x1="605.9" y1="541.4" x2="630.3" y2="541.4" stroke="#222224" stroke-width="2"/>
<rect x="639.3" y="430.8" width="24.7" height="17.2" fill="#7eaee0"/>
<rect x="639.3" y="448" width="24.7" height="4.6" fill="#0b4ca1"/>
<rect x="639.3" y="452.6" width="24.7" height="89.8" fill="#8a898c"/>
<path d="M640.3 448 V431.8 H663 V448" fill="none" stroke="#17263d" stroke-width="2" stroke-linejoin="round"/>
<path d="M640.3 448 V452.6 M663 448 V452.6" fill="none" stroke="#0b1a33" stroke-width="2"/>
<path d="M640.3 452.6 V541.4 M663 452.6 V541.4" fill="none" stroke="#222224" stroke-width="2"/>
<line x1="639.3" y1="541.4" x2="664" y2="541.4" stroke="#222224" stroke-width="2"/>
<rect x="672.4" y="445.1" width="25.2" height="20.2" fill="#7eaee0"/>
<rect x="672.4" y="465.3" width="25.2" height="2.5" fill="#0b4ca1"/>
<rect x="672.4" y="467.8" width="25.2" height="74.6" fill="#8a898c"/>
<path d="M673.4 465.3 V446.1 H696.6 V465.3" fill="none" stroke="#17263d" stroke-width="2" stroke-linejoin="round"/>
<path d="M673.4 465.3 V467.8 M696.6 465.3 V467.8" fill="none" stroke="#0b1a33" stroke-width="2"/>
<path d="M673.4 467.8 V541.4 M696.6 467.8 V541.4" fill="none" stroke="#222224" stroke-width="2"/>
<line x1="672.4" y1="541.4" x2="697.6" y2="541.4" stroke="#222224" stroke-width="2"/>
<rect x="706" y="421" width="24.9" height="19.5" fill="#13a14a"/>
<rect x="706" y="440.5" width="24.9" height="10.5" fill="#0b4ca1"/>
<rect x="706" y="451" width="24.9" height="91.4" fill="#8a898c"/>
<path d="M707 440.5 V422 H729.9 V440.5" fill="none" stroke="#0d2a16" stroke-width="2" stroke-linejoin="round"/>
<path d="M707 440.5 V451 M729.9 440.5 V451" fill="none" stroke="#0b1a33" stroke-width="2"/>
<path d="M707 451 V541.4 M729.9 451 V541.4" fill="none" stroke="#222224" stroke-width="2"/>
<line x1="706" y1="541.4" x2="730.9" y2="541.4" stroke="#222224" stroke-width="2"/>
<rect x="739.6" y="424.9" width="24.6" height="17.7" fill="#ef9303"/>
<rect x="739.6" y="442.6" width="24.6" height="11.7" fill="#0b4ca1"/>
<rect x="739.6" y="454.3" width="24.6" height="88.1" fill="#8a898c"/>
<path d="M740.6 442.6 V425.9 H763.2 V442.6" fill="none" stroke="#3a2205" stroke-width="2" stroke-linejoin="round"/>
<path d="M740.6 442.6 V454.3 M763.2 442.6 V454.3" fill="none" stroke="#0b1a33" stroke-width="2"/>
<path d="M740.6 454.3 V541.4 M763.2 454.3 V541.4" fill="none" stroke="#222224" stroke-width="2"/>
<line x1="739.6" y1="541.4" x2="764.2" y2="541.4" stroke="#222224" stroke-width="2"/>
<rect x="773.5" y="426.6" width="24.3" height="12.9" fill="#ef9303"/>
<rect x="773.5" y="439.5" width="24.3" height="6.8" fill="#7eaee0"/>
<rect x="773.5" y="446.3" width="24.3" height="7.7" fill="#0b4ca1"/>
<rect x="773.5" y="454" width="24.3" height="88.4" fill="#8a898c"/>
<path d="M774.5 439.5 V427.6 H796.8 V439.5" fill="none" stroke="#3a2205" stroke-width="2" stroke-linejoin="round"/>
<path d="M774.5 439.5 V446.3 M796.8 439.5 V446.3" fill="none" stroke="#17263d" stroke-width="2"/>
<path d="M774.5 446.3 V454 M796.8 446.3 V454" fill="none" stroke="#0b1a33" stroke-width="2"/>
<path d="M774.5 454 V541.4 M796.8 454 V541.4" fill="none" stroke="#222224" stroke-width="2"/>
<line x1="773.5" y1="541.4" x2="797.8" y2="541.4" stroke="#222224" stroke-width="2"/>
<rect x="806.7" y="419.2" width="24.5" height="50.2" fill="#13a14a"/>
<rect x="806.7" y="469.4" width="24.5" height="73" fill="#8a898c"/>
<path d="M807.7 469.4 V420.2 H830.2 V469.4" fill="none" stroke="#0d2a16" stroke-width="2" stroke-linejoin="round"/>
<path d="M807.7 469.4 V541.4 M830.2 469.4 V541.4" fill="none" stroke="#222224" stroke-width="2"/>
<line x1="806.7" y1="541.4" x2="831.2" y2="541.4" stroke="#222224" stroke-width="2"/>
<rect x="840.3" y="427.5" width="24.3" height="46.5" fill="#ef9303"/>
<rect x="840.3" y="474" width="24.3" height="68.4" fill="#8a898c"/>
<path d="M841.3 474 V428.5 H863.6 V474" fill="none" stroke="#3a2205" stroke-width="2" stroke-linejoin="round"/>
<path d="M841.3 474 V541.4 M863.6 474 V541.4" fill="none" stroke="#222224" stroke-width="2"/>
<line x1="840.3" y1="541.4" x2="864.6" y2="541.4" stroke="#222224" stroke-width="2"/>
<rect x="873.5" y="489.6" width="25" height="52.8" fill="#0b4ca1"/>
<path d="M874.5 541.4 V490.6 H897.5 V541.4" fill="none" stroke="#0b1a33" stroke-width="2" stroke-linejoin="round"/>
<line x1="873.5" y1="541.4" x2="898.5" y2="541.4" stroke="#222224" stroke-width="2"/>
<rect x="500" y="336.3" width="402.6" height="206.1" fill="none" stroke="#1e1e1e" stroke-width="2" stroke-linejoin="round"/>
<text transform="translate(523.84 539.2) rotate(-90) scale(0.65 1)" class="lb" textLength="73.98" lengthAdjust="spacing" stroke-width="2.2" style="font-size:20.5px">ROZ98</text>
<text transform="translate(523.84 539.2) rotate(-90) scale(0.65 1)" class="lb" textLength="73.98" lengthAdjust="spacing" stroke-width="0.7" style="stroke:#fff;font-size:20.5px">ROZ98</text>
<text transform="translate(557.29 539.2) rotate(-90) scale(0.65 1)" class="lb" textLength="41.62" lengthAdjust="spacing" stroke-width="2.2" style="font-size:20.5px">E20</text>
<text transform="translate(557.29 539.2) rotate(-90) scale(0.65 1)" class="lb" textLength="41.62" lengthAdjust="spacing" stroke-width="0.7" style="stroke:#fff;font-size:20.5px">E20</text>
<text transform="translate(591.19 539.2) rotate(-90) scale(0.65 1)" class="lb" textLength="42.08" lengthAdjust="spacing" stroke-width="2.2" style="font-size:20.5px">E25</text>
<text transform="translate(591.19 539.2) rotate(-90) scale(0.65 1)" class="lb" textLength="42.08" lengthAdjust="spacing" stroke-width="0.7" style="stroke:#fff;font-size:20.5px">E25</text>
<text transform="translate(624.64 539.2) rotate(-90) scale(0.65 1)" class="lb" textLength="75.53" lengthAdjust="spacing" stroke-width="2.2" style="font-size:20.5px">M15E5</text>
<text transform="translate(624.64 539.2) rotate(-90) scale(0.65 1)" class="lb" textLength="75.53" lengthAdjust="spacing" stroke-width="0.7" style="stroke:#fff;font-size:20.5px">M15E5</text>
<text transform="translate(658.19 539.2) rotate(-90) scale(0.65 1)" class="lb" textLength="75.68" lengthAdjust="spacing" stroke-width="2.2" style="font-size:20.5px">M5E15</text>
<text transform="translate(658.19 539.2) rotate(-90) scale(0.65 1)" class="lb" textLength="75.68" lengthAdjust="spacing" stroke-width="0.7" style="stroke:#fff;font-size:20.5px">M5E15</text>
<text transform="translate(691.54 539.2) rotate(-90) scale(0.65 1)" class="lb" textLength="75.99" lengthAdjust="spacing" stroke-width="2.2" style="font-size:20.5px">M3E20</text>
<text transform="translate(691.54 539.2) rotate(-90) scale(0.65 1)" class="lb" textLength="75.99" lengthAdjust="spacing" stroke-width="0.7" style="stroke:#fff;font-size:20.5px">M3E20</text>
<text transform="translate(724.99 539.2) rotate(-90) scale(0.65 1)" class="lb" textLength="113.75" lengthAdjust="spacing" stroke-width="2.2" style="font-size:20.5px">M10,2B15</text>
<text transform="translate(724.99 539.2) rotate(-90) scale(0.65 1)" class="lb" textLength="113.75" lengthAdjust="spacing" stroke-width="0.7" style="stroke:#fff;font-size:20.5px">M10,2B15</text>
<text transform="translate(758.44 539.2) rotate(-90) scale(0.65 1)" class="lb" textLength="105.58" lengthAdjust="spacing" stroke-width="2.2" style="font-size:20.5px">M10,iB15</text>
<text transform="translate(758.44 539.2) rotate(-90) scale(0.65 1)" class="lb" textLength="105.58" lengthAdjust="spacing" stroke-width="0.7" style="stroke:#fff;font-size:20.5px">M10,iB15</text>
<text transform="translate(792.19 539.2) rotate(-90) scale(0.65 1)" class="lb" textLength="141.65" lengthAdjust="spacing" stroke-width="2.2" style="font-size:20.5px">M5E10,2B10</text>
<text transform="translate(792.19 539.2) rotate(-90) scale(0.65 1)" class="lb" textLength="141.65" lengthAdjust="spacing" stroke-width="0.7" style="stroke:#fff;font-size:20.5px">M5E10,2B10</text>
<text transform="translate(825.49 539.2) rotate(-90) scale(0.65 1)" class="lb" textLength="58.42" lengthAdjust="spacing" stroke-width="2.2" style="font-size:20.5px">2B40</text>
<text transform="translate(825.49 539.2) rotate(-90) scale(0.65 1)" class="lb" textLength="58.42" lengthAdjust="spacing" stroke-width="0.7" style="stroke:#fff;font-size:20.5px">2B40</text>
<text transform="translate(858.99 539.2) rotate(-90) scale(0.65 1)" class="lb" textLength="52.87" lengthAdjust="spacing" stroke-width="2.2" style="font-size:20.5px">iB40</text>
<text transform="translate(858.99 539.2) rotate(-90) scale(0.65 1)" class="lb" textLength="52.87" lengthAdjust="spacing" stroke-width="0.7" style="stroke:#fff;font-size:20.5px">iB40</text>
<text transform="translate(892.54 539.2) rotate(-90) scale(0.65 1)" class="lb" textLength="60.88" lengthAdjust="spacing" stroke-width="2.2" style="font-size:20.5px">M100</text>
<text transform="translate(892.54 539.2) rotate(-90) scale(0.65 1)" class="lb" textLength="60.88" lengthAdjust="spacing" stroke-width="0.7" style="stroke:#fff;font-size:20.5px">M100</text>
<clipPath id="c4"><rect x="88.2" y="570" width="402.5" height="205.8"/></clipPath>
<line x1="89.2" y1="638" x2="489.7" y2="638" stroke="#dddddd" stroke-width="1.4"/>
<line x1="89.2" y1="707" x2="489.7" y2="707" stroke="#dddddd" stroke-width="1.4"/>
<rect x="92.4" y="709.9" width="25.2" height="65.9" fill="#0a0a0a"/>
<rect x="94.6" y="712.1" width="20.8" height="62.9" fill="url(#hatch4)"/>
<rect x="126.8" y="716.5" width="24.3" height="12.6" fill="#7eaee0"/>
<rect x="126.8" y="729.1" width="24.3" height="46.7" fill="#8a898c"/>
<path d="M127.8 729.1 V717.5 H150.1 V729.1" fill="none" stroke="#17263d" stroke-width="2" stroke-linejoin="round"/>
<path d="M127.8 729.1 V774.8 M150.1 729.1 V774.8" fill="none" stroke="#222224" stroke-width="2"/>
<line x1="126.8" y1="774.8" x2="151.1" y2="774.8" stroke="#222224" stroke-width="2"/>
<rect x="160" y="714.5" width="24.1" height="16.1" fill="#7eaee0"/>
<rect x="160" y="730.6" width="24.1" height="45.2" fill="#8a898c"/>
<path d="M161 730.6 V715.5 H183.1 V730.6" fill="none" stroke="#17263d" stroke-width="2" stroke-linejoin="round"/>
<path d="M161 730.6 V774.8 M183.1 730.6 V774.8" fill="none" stroke="#222224" stroke-width="2"/>
<line x1="160" y1="774.8" x2="184.1" y2="774.8" stroke="#222224" stroke-width="2"/>
<rect x="193.8" y="716" width="24.1" height="2.3" fill="#7eaee0"/>
<rect x="193.8" y="718.3" width="24.1" height="9.3" fill="#0b4ca1"/>
<rect x="193.8" y="727.6" width="24.1" height="48.2" fill="#8a898c"/>
<path d="M194.8 718.3 V717 H216.9 V718.3" fill="none" stroke="#17263d" stroke-width="2" stroke-linejoin="round"/>
<path d="M194.8 718.3 V727.6 M216.9 718.3 V727.6" fill="none" stroke="#0b1a33" stroke-width="2"/>
<path d="M194.8 727.6 V774.8 M216.9 727.6 V774.8" fill="none" stroke="#222224" stroke-width="2"/>
<line x1="193.8" y1="774.8" x2="217.9" y2="774.8" stroke="#222224" stroke-width="2"/>
<rect x="227" y="714" width="24.6" height="9.7" fill="#7eaee0"/>
<rect x="227" y="723.7" width="24.6" height="3.1" fill="#0b4ca1"/>
<rect x="227" y="726.8" width="24.6" height="49" fill="#8a898c"/>
<path d="M228 723.7 V715 H250.6 V723.7" fill="none" stroke="#17263d" stroke-width="2" stroke-linejoin="round"/>
<path d="M228 723.7 V726.8 M250.6 723.7 V726.8" fill="none" stroke="#0b1a33" stroke-width="2"/>
<path d="M228 726.8 V774.8 M250.6 726.8 V774.8" fill="none" stroke="#222224" stroke-width="2"/>
<line x1="227" y1="774.8" x2="251.6" y2="774.8" stroke="#222224" stroke-width="2"/>
<rect x="260.8" y="715.3" width="24.1" height="11.9" fill="#7eaee0"/>
<rect x="260.8" y="727.2" width="24.1" height="1.9" fill="#0b4ca1"/>
<rect x="260.8" y="729.1" width="24.1" height="46.7" fill="#8a898c"/>
<path d="M261.8 727.2 V716.3 H283.9 V727.2" fill="none" stroke="#17263d" stroke-width="2" stroke-linejoin="round"/>
<path d="M261.8 727.2 V729.1 M283.9 727.2 V729.1" fill="none" stroke="#0b1a33" stroke-width="2"/>
<path d="M261.8 729.1 V774.8 M283.9 729.1 V774.8" fill="none" stroke="#222224" stroke-width="2"/>
<line x1="260.8" y1="774.8" x2="284.9" y2="774.8" stroke="#222224" stroke-width="2"/>
<rect x="294.1" y="715.3" width="24.2" height="8.9" fill="#13a14a"/>
<rect x="294.1" y="724.2" width="24.2" height="6.4" fill="#0b4ca1"/>
<rect x="294.1" y="730.6" width="24.2" height="45.2" fill="#8a898c"/>
<path d="M295.1 724.2 V716.3 H317.3 V724.2" fill="none" stroke="#0d2a16" stroke-width="2" stroke-linejoin="round"/>
<path d="M295.1 724.2 V730.6 M317.3 724.2 V730.6" fill="none" stroke="#0b1a33" stroke-width="2"/>
<path d="M295.1 730.6 V774.8 M317.3 730.6 V774.8" fill="none" stroke="#222224" stroke-width="2"/>
<line x1="294.1" y1="774.8" x2="318.3" y2="774.8" stroke="#222224" stroke-width="2"/>
<rect x="328" y="715" width="24.1" height="8.7" fill="#ef9303"/>
<rect x="328" y="723.7" width="24.1" height="6.6" fill="#0b4ca1"/>
<rect x="328" y="730.3" width="24.1" height="45.5" fill="#8a898c"/>
<path d="M329 723.7 V716 H351.1 V723.7" fill="none" stroke="#3a2205" stroke-width="2" stroke-linejoin="round"/>
<path d="M329 723.7 V730.3 M351.1 723.7 V730.3" fill="none" stroke="#0b1a33" stroke-width="2"/>
<path d="M329 730.3 V774.8 M351.1 730.3 V774.8" fill="none" stroke="#222224" stroke-width="2"/>
<line x1="328" y1="774.8" x2="352.1" y2="774.8" stroke="#222224" stroke-width="2"/>
<rect x="361.1" y="715" width="24.7" height="6.6" fill="#ef9303"/>
<rect x="361.1" y="721.6" width="24.7" height="5.8" fill="#7eaee0"/>
<rect x="361.1" y="727.4" width="24.7" height="2.4" fill="#0b4ca1"/>
<rect x="361.1" y="729.8" width="24.7" height="46" fill="#8a898c"/>
<path d="M362.1 721.6 V716 H384.8 V721.6" fill="none" stroke="#3a2205" stroke-width="2" stroke-linejoin="round"/>
<path d="M362.1 721.6 V727.4 M384.8 721.6 V727.4" fill="none" stroke="#17263d" stroke-width="2"/>
<path d="M362.1 727.4 V729.8 M384.8 727.4 V729.8" fill="none" stroke="#0b1a33" stroke-width="2"/>
<path d="M362.1 729.8 V774.8 M384.8 729.8 V774.8" fill="none" stroke="#222224" stroke-width="2"/>
<line x1="361.1" y1="774.8" x2="385.8" y2="774.8" stroke="#222224" stroke-width="2"/>
<rect x="394.7" y="714.2" width="24.4" height="24.7" fill="#13a14a"/>
<rect x="394.7" y="738.9" width="24.4" height="36.9" fill="#8a898c"/>
<path d="M395.7 738.9 V715.2 H418.1 V738.9" fill="none" stroke="#0d2a16" stroke-width="2" stroke-linejoin="round"/>
<path d="M395.7 738.9 V774.8 M418.1 738.9 V774.8" fill="none" stroke="#222224" stroke-width="2"/>
<line x1="394.7" y1="774.8" x2="419.1" y2="774.8" stroke="#222224" stroke-width="2"/>
<rect x="428.2" y="715.8" width="24.7" height="25.2" fill="#ef9303"/>
<rect x="428.2" y="741" width="24.7" height="34.8" fill="#8a898c"/>
<path d="M429.2 741 V716.8 H451.9 V741" fill="none" stroke="#3a2205" stroke-width="2" stroke-linejoin="round"/>
<path d="M429.2 741 V774.8 M451.9 741 V774.8" fill="none" stroke="#222224" stroke-width="2"/>
<line x1="428.2" y1="774.8" x2="452.9" y2="774.8" stroke="#222224" stroke-width="2"/>
<rect x="461.9" y="711.4" width="24.7" height="64.4" fill="#0b4ca1"/>
<path d="M462.9 774.8 V712.4 H485.6 V774.8" fill="none" stroke="#0b1a33" stroke-width="2" stroke-linejoin="round"/>
<line x1="461.9" y1="774.8" x2="486.6" y2="774.8" stroke="#222224" stroke-width="2"/>
<rect x="88.2" y="570" width="402.5" height="205.8" fill="none" stroke="#1e1e1e" stroke-width="2" stroke-linejoin="round"/>
<text transform="translate(111 701.8) rotate(-90) scale(0.7 1)" class="lb" textLength="66.43" lengthAdjust="spacing" stroke-width="3.6" style="font-size:19px">ROZ98</text>
<text transform="translate(111 701.8) rotate(-90) scale(0.7 1)" class="lb" textLength="66.43" lengthAdjust="spacing" stroke-width="0.7" style="stroke:#fff;font-size:19px">ROZ98</text>
<text transform="translate(144.95 705.6) rotate(-90) scale(0.7 1)" class="lb" textLength="36.43" lengthAdjust="spacing" stroke-width="3.6" style="font-size:19px">E20</text>
<text transform="translate(144.95 705.6) rotate(-90) scale(0.7 1)" class="lb" textLength="36.43" lengthAdjust="spacing" stroke-width="0.7" style="stroke:#fff;font-size:19px">E20</text>
<text transform="translate(178.05 705.6) rotate(-90) scale(0.7 1)" class="lb" textLength="36.86" lengthAdjust="spacing" stroke-width="3.6" style="font-size:19px">E25</text>
<text transform="translate(178.05 705.6) rotate(-90) scale(0.7 1)" class="lb" textLength="36.86" lengthAdjust="spacing" stroke-width="0.7" style="stroke:#fff;font-size:19px">E25</text>
<text transform="translate(211.85 708.1) rotate(-90) scale(0.7 1)" class="lb" textLength="67.86" lengthAdjust="spacing" stroke-width="3.6" style="font-size:19px">M15E5</text>
<text transform="translate(211.85 708.1) rotate(-90) scale(0.7 1)" class="lb" textLength="67.86" lengthAdjust="spacing" stroke-width="0.7" style="stroke:#fff;font-size:19px">M15E5</text>
<text transform="translate(245.3 704.1) rotate(-90) scale(0.7 1)" class="lb" textLength="68" lengthAdjust="spacing" stroke-width="3.6" style="font-size:19px">M5E15</text>
<text transform="translate(245.3 704.1) rotate(-90) scale(0.7 1)" class="lb" textLength="68" lengthAdjust="spacing" stroke-width="0.7" style="stroke:#fff;font-size:19px">M5E15</text>
<text transform="translate(278.85 704.1) rotate(-90) scale(0.7 1)" class="lb" textLength="68.29" lengthAdjust="spacing" stroke-width="3.6" style="font-size:19px">M3E20</text>
<text transform="translate(278.85 704.1) rotate(-90) scale(0.7 1)" class="lb" textLength="68.29" lengthAdjust="spacing" stroke-width="0.7" style="stroke:#fff;font-size:19px">M3E20</text>
<text transform="translate(312.2 702.9) rotate(-90) scale(0.7 1)" class="lb" textLength="103.29" lengthAdjust="spacing" stroke-width="3.6" style="font-size:19px">M10,2B15</text>
<text transform="translate(312.2 702.9) rotate(-90) scale(0.7 1)" class="lb" textLength="103.29" lengthAdjust="spacing" stroke-width="0.7" style="stroke:#fff;font-size:19px">M10,2B15</text>
<text transform="translate(346.05 702.9) rotate(-90) scale(0.7 1)" class="lb" textLength="95.71" lengthAdjust="spacing" stroke-width="3.6" style="font-size:19px">M10,iB15</text>
<text transform="translate(346.05 702.9) rotate(-90) scale(0.7 1)" class="lb" textLength="95.71" lengthAdjust="spacing" stroke-width="0.7" style="stroke:#fff;font-size:19px">M10,iB15</text>
<text transform="translate(379.45 704.7) rotate(-90) scale(0.7 1)" class="lb" textLength="129.14" lengthAdjust="spacing" stroke-width="3.6" style="font-size:19px">M5E10,2B10</text>
<text transform="translate(379.45 704.7) rotate(-90) scale(0.7 1)" class="lb" textLength="129.14" lengthAdjust="spacing" stroke-width="0.7" style="stroke:#fff;font-size:19px">M5E10,2B10</text>
<text transform="translate(412.9 706.4) rotate(-90) scale(0.7 1)" class="lb" textLength="52" lengthAdjust="spacing" stroke-width="3.6" style="font-size:19px">2B40</text>
<text transform="translate(412.9 706.4) rotate(-90) scale(0.7 1)" class="lb" textLength="52" lengthAdjust="spacing" stroke-width="0.7" style="stroke:#fff;font-size:19px">2B40</text>
<text transform="translate(446.55 706.4) rotate(-90) scale(0.7 1)" class="lb" textLength="46.86" lengthAdjust="spacing" stroke-width="3.6" style="font-size:19px">iB40</text>
<text transform="translate(446.55 706.4) rotate(-90) scale(0.7 1)" class="lb" textLength="46.86" lengthAdjust="spacing" stroke-width="0.7" style="stroke:#fff;font-size:19px">iB40</text>
<text transform="translate(480.25 703.1) rotate(-90) scale(0.7 1)" class="lb" textLength="54.29" lengthAdjust="spacing" stroke-width="3.6" style="font-size:19px">M100</text>
<text transform="translate(480.25 703.1) rotate(-90) scale(0.7 1)" class="lb" textLength="54.29" lengthAdjust="spacing" stroke-width="0.7" style="stroke:#fff;font-size:19px">M100</text>
<clipPath id="c5"><rect x="501.7" y="570.8" width="402.6" height="204.6"/></clipPath>
<line x1="502.7" y1="637.5" x2="903.3" y2="637.5" stroke="#dddddd" stroke-width="1.4"/>
<line x1="502.7" y1="706.3" x2="903.3" y2="706.3" stroke="#dddddd" stroke-width="1.4"/>
<rect x="505.4" y="728" width="25.2" height="47.4" fill="#0a0a0a"/>
<rect x="507.6" y="730.2" width="20.8" height="44.4" fill="url(#hatch5)"/>
<rect x="539.5" y="695.2" width="24.7" height="16" fill="#7eaee0"/>
<rect x="539.5" y="711.2" width="24.7" height="64.2" fill="#8a898c"/>
<path d="M540.5 711.2 V696.2 H563.2 V711.2" fill="none" stroke="#17263d" stroke-width="2" stroke-linejoin="round"/>
<path d="M540.5 711.2 V774.4 M563.2 711.2 V774.4" fill="none" stroke="#222224" stroke-width="2"/>
<line x1="539.5" y1="774.4" x2="564.2" y2="774.4" stroke="#222224" stroke-width="2"/>
<rect x="573.2" y="681.3" width="24.3" height="24.8" fill="#7eaee0"/>
<rect x="573.2" y="706.1" width="24.3" height="69.3" fill="#8a898c"/>
<path d="M574.2 706.1 V682.3 H596.5 V706.1" fill="none" stroke="#17263d" stroke-width="2" stroke-linejoin="round"/>
<path d="M574.2 706.1 V774.4 M596.5 706.1 V774.4" fill="none" stroke="#222224" stroke-width="2"/>
<line x1="573.2" y1="774.4" x2="597.5" y2="774.4" stroke="#222224" stroke-width="2"/>
<rect x="606.3" y="689" width="24.8" height="5" fill="#7eaee0"/>
<rect x="606.3" y="694" width="24.8" height="11.8" fill="#0b4ca1"/>
<rect x="606.3" y="705.8" width="24.8" height="69.6" fill="#8a898c"/>
<path d="M607.3 694 V690 H630.1 V694" fill="none" stroke="#17263d" stroke-width="2" stroke-linejoin="round"/>
<path d="M607.3 694 V705.8 M630.1 694 V705.8" fill="none" stroke="#0b1a33" stroke-width="2"/>
<path d="M607.3 705.8 V774.4 M630.1 705.8 V774.4" fill="none" stroke="#222224" stroke-width="2"/>
<line x1="606.3" y1="774.4" x2="631.1" y2="774.4" stroke="#222224" stroke-width="2"/>
<rect x="640.1" y="694" width="24.4" height="13" fill="#7eaee0"/>
<rect x="640.1" y="707" width="24.4" height="2.5" fill="#0b4ca1"/>
<rect x="640.1" y="709.5" width="24.4" height="65.9" fill="#8a898c"/>
<path d="M641.1 707 V695 H663.5 V707" fill="none" stroke="#17263d" stroke-width="2" stroke-linejoin="round"/>
<path d="M641.1 707 V709.5 M663.5 707 V709.5" fill="none" stroke="#0b1a33" stroke-width="2"/>
<path d="M641.1 709.5 V774.4 M663.5 709.5 V774.4" fill="none" stroke="#222224" stroke-width="2"/>
<line x1="640.1" y1="774.4" x2="664.5" y2="774.4" stroke="#222224" stroke-width="2"/>
<rect x="673.7" y="682.3" width="24.4" height="19.6" fill="#7eaee0"/>
<rect x="673.7" y="701.9" width="24.4" height="2.6" fill="#0b4ca1"/>
<rect x="673.7" y="704.5" width="24.4" height="70.9" fill="#8a898c"/>
<path d="M674.7 701.9 V683.3 H697.1 V701.9" fill="none" stroke="#17263d" stroke-width="2" stroke-linejoin="round"/>
<path d="M674.7 701.9 V704.5 M697.1 701.9 V704.5" fill="none" stroke="#0b1a33" stroke-width="2"/>
<path d="M674.7 704.5 V774.4 M697.1 704.5 V774.4" fill="none" stroke="#222224" stroke-width="2"/>
<line x1="673.7" y1="774.4" x2="698.1" y2="774.4" stroke="#222224" stroke-width="2"/>
<rect x="707.4" y="699.1" width="24.3" height="10.7" fill="#13a14a"/>
<rect x="707.4" y="709.8" width="24.3" height="8.1" fill="#0b4ca1"/>
<rect x="707.4" y="717.9" width="24.3" height="57.5" fill="#8a898c"/>
<path d="M708.4 709.8 V700.1 H730.7 V709.8" fill="none" stroke="#0d2a16" stroke-width="2" stroke-linejoin="round"/>
<path d="M708.4 709.8 V717.9 M730.7 709.8 V717.9" fill="none" stroke="#0b1a33" stroke-width="2"/>
<path d="M708.4 717.9 V774.4 M730.7 717.9 V774.4" fill="none" stroke="#222224" stroke-width="2"/>
<line x1="707.4" y1="774.4" x2="731.7" y2="774.4" stroke="#222224" stroke-width="2"/>
<rect x="741" y="698.1" width="23.5" height="11.7" fill="#ef9303"/>
<rect x="741" y="709.8" width="23.5" height="7.3" fill="#0b4ca1"/>
<rect x="741" y="717.1" width="23.5" height="58.3" fill="#8a898c"/>
<path d="M742 709.8 V699.1 H763.5 V709.8" fill="none" stroke="#3a2205" stroke-width="2" stroke-linejoin="round"/>
<path d="M742 709.8 V717.1 M763.5 709.8 V717.1" fill="none" stroke="#0b1a33" stroke-width="2"/>
<path d="M742 717.1 V774.4 M763.5 717.1 V774.4" fill="none" stroke="#222224" stroke-width="2"/>
<line x1="741" y1="774.4" x2="764.5" y2="774.4" stroke="#222224" stroke-width="2"/>
<rect x="774.2" y="696.7" width="24.5" height="8.2" fill="#ef9303"/>
<rect x="774.2" y="704.9" width="24.5" height="7.2" fill="#7eaee0"/>
<rect x="774.2" y="712.1" width="24.5" height="3.4" fill="#0b4ca1"/>
<rect x="774.2" y="715.5" width="24.5" height="59.9" fill="#8a898c"/>
<path d="M775.2 704.9 V697.7 H797.7 V704.9" fill="none" stroke="#3a2205" stroke-width="2" stroke-linejoin="round"/>
<path d="M775.2 704.9 V712.1 M797.7 704.9 V712.1" fill="none" stroke="#17263d" stroke-width="2"/>
<path d="M775.2 712.1 V715.5 M797.7 712.1 V715.5" fill="none" stroke="#0b1a33" stroke-width="2"/>
<path d="M775.2 715.5 V774.4 M797.7 715.5 V774.4" fill="none" stroke="#222224" stroke-width="2"/>
<line x1="774.2" y1="774.4" x2="798.7" y2="774.4" stroke="#222224" stroke-width="2"/>
<rect x="807.7" y="701" width="24.7" height="30" fill="#13a14a"/>
<rect x="807.7" y="731" width="24.7" height="44.4" fill="#8a898c"/>
<path d="M808.7 731 V702 H831.4 V731" fill="none" stroke="#0d2a16" stroke-width="2" stroke-linejoin="round"/>
<path d="M808.7 731 V774.4 M831.4 731 V774.4" fill="none" stroke="#222224" stroke-width="2"/>
<line x1="807.7" y1="774.4" x2="832.4" y2="774.4" stroke="#222224" stroke-width="2"/>
<rect x="841.5" y="695.5" width="24.5" height="32" fill="#ef9303"/>
<rect x="841.5" y="727.5" width="24.5" height="47.9" fill="#8a898c"/>
<path d="M842.5 727.5 V696.5 H865 V727.5" fill="none" stroke="#3a2205" stroke-width="2" stroke-linejoin="round"/>
<path d="M842.5 727.5 V774.4 M865 727.5 V774.4" fill="none" stroke="#222224" stroke-width="2"/>
<line x1="841.5" y1="774.4" x2="866" y2="774.4" stroke="#222224" stroke-width="2"/>
<rect x="874.9" y="645.3" width="24.8" height="130.1" fill="#0b4ca1"/>
<path d="M875.9 774.4 V646.3 H898.7 V774.4" fill="none" stroke="#0b1a33" stroke-width="2" stroke-linejoin="round"/>
<line x1="874.9" y1="774.4" x2="899.7" y2="774.4" stroke="#222224" stroke-width="2"/>
<rect x="501.7" y="570.8" width="402.6" height="204.6" fill="none" stroke="#1e1e1e" stroke-width="2" stroke-linejoin="round"/>
<text transform="translate(524 720) rotate(-90) scale(0.7 1)" class="lb" textLength="66.43" lengthAdjust="spacing" stroke-width="3.6" style="font-size:19px">ROZ98</text>
<text transform="translate(524 720) rotate(-90) scale(0.7 1)" class="lb" textLength="66.43" lengthAdjust="spacing" stroke-width="0.7" style="stroke:#fff;font-size:19px">ROZ98</text>
<text transform="translate(557.85 686.4) rotate(-90) scale(0.7 1)" class="lb" textLength="36.43" lengthAdjust="spacing" stroke-width="3.6" style="font-size:19px">E20</text>
<text transform="translate(557.85 686.4) rotate(-90) scale(0.7 1)" class="lb" textLength="36.43" lengthAdjust="spacing" stroke-width="0.7" style="stroke:#fff;font-size:19px">E20</text>
<text transform="translate(591.35 672.5) rotate(-90) scale(0.7 1)" class="lb" textLength="36.86" lengthAdjust="spacing" stroke-width="3.6" style="font-size:19px">E25</text>
<text transform="translate(591.35 672.5) rotate(-90) scale(0.7 1)" class="lb" textLength="36.86" lengthAdjust="spacing" stroke-width="0.7" style="stroke:#fff;font-size:19px">E25</text>
<text transform="translate(624.7 680.5) rotate(-90) scale(0.7 1)" class="lb" textLength="67.86" lengthAdjust="spacing" stroke-width="3.6" style="font-size:19px">M15E5</text>
<text transform="translate(624.7 680.5) rotate(-90) scale(0.7 1)" class="lb" textLength="67.86" lengthAdjust="spacing" stroke-width="0.7" style="stroke:#fff;font-size:19px">M15E5</text>
<text transform="translate(658.3 685.6) rotate(-90) scale(0.7 1)" class="lb" textLength="68" lengthAdjust="spacing" stroke-width="3.6" style="font-size:19px">M5E15</text>
<text transform="translate(658.3 685.6) rotate(-90) scale(0.7 1)" class="lb" textLength="68" lengthAdjust="spacing" stroke-width="0.7" style="stroke:#fff;font-size:19px">M5E15</text>
<text transform="translate(691.9 675.5) rotate(-90) scale(0.7 1)" class="lb" textLength="68.29" lengthAdjust="spacing" stroke-width="3.6" style="font-size:19px">M3E20</text>
<text transform="translate(691.9 675.5) rotate(-90) scale(0.7 1)" class="lb" textLength="68.29" lengthAdjust="spacing" stroke-width="0.7" style="stroke:#fff;font-size:19px">M3E20</text>
<text transform="translate(725.55 690.6) rotate(-90) scale(0.7 1)" class="lb" textLength="103.29" lengthAdjust="spacing" stroke-width="3.6" style="font-size:19px">M10,2B15</text>
<text transform="translate(725.55 690.6) rotate(-90) scale(0.7 1)" class="lb" textLength="103.29" lengthAdjust="spacing" stroke-width="0.7" style="stroke:#fff;font-size:19px">M10,2B15</text>
<text transform="translate(758.75 690.6) rotate(-90) scale(0.7 1)" class="lb" textLength="95.71" lengthAdjust="spacing" stroke-width="3.6" style="font-size:19px">M10,iB15</text>
<text transform="translate(758.75 690.6) rotate(-90) scale(0.7 1)" class="lb" textLength="95.71" lengthAdjust="spacing" stroke-width="0.7" style="stroke:#fff;font-size:19px">M10,iB15</text>
<text transform="translate(792.45 687.8) rotate(-90) scale(0.7 1)" class="lb" textLength="129.14" lengthAdjust="spacing" stroke-width="3.6" style="font-size:19px">M5E10,2B10</text>
<text transform="translate(792.45 687.8) rotate(-90) scale(0.7 1)" class="lb" textLength="129.14" lengthAdjust="spacing" stroke-width="0.7" style="stroke:#fff;font-size:19px">M5E10,2B10</text>
<text transform="translate(826.05 692.9) rotate(-90) scale(0.7 1)" class="lb" textLength="52" lengthAdjust="spacing" stroke-width="3.6" style="font-size:19px">2B40</text>
<text transform="translate(826.05 692.9) rotate(-90) scale(0.7 1)" class="lb" textLength="52" lengthAdjust="spacing" stroke-width="0.7" style="stroke:#fff;font-size:19px">2B40</text>
<text transform="translate(859.75 687.8) rotate(-90) scale(0.7 1)" class="lb" textLength="46.86" lengthAdjust="spacing" stroke-width="3.6" style="font-size:19px">iB40</text>
<text transform="translate(859.75 687.8) rotate(-90) scale(0.7 1)" class="lb" textLength="46.86" lengthAdjust="spacing" stroke-width="0.7" style="stroke:#fff;font-size:19px">iB40</text>
<text transform="translate(893.3 638.9) rotate(-90) scale(0.7 1)" class="lb" textLength="54.29" lengthAdjust="spacing" stroke-width="3.6" style="font-size:19px">M100</text>
<text transform="translate(893.3 638.9) rotate(-90) scale(0.7 1)" class="lb" textLength="54.29" lengthAdjust="spacing" stroke-width="0.7" style="stroke:#fff;font-size:19px">M100</text>
<clipPath id="c6"><rect x="89.3" y="806" width="403.1" height="206.7"/></clipPath>
<line x1="90.3" y1="874.7" x2="491.4" y2="874.7" stroke="#dddddd" stroke-width="1.4"/>
<line x1="90.3" y1="943" x2="491.4" y2="943" stroke="#dddddd" stroke-width="1.4"/>
<rect x="93.6" y="874.2" width="24.9" height="138.5" fill="#0a0a0a"/>
<rect x="95.8" y="876.4" width="20.5" height="135.5" fill="url(#hatch6)"/>
<rect x="127.6" y="882.5" width="24.4" height="26.6" fill="#7eaee0"/>
<rect x="127.6" y="909.1" width="24.4" height="103.6" fill="#8a898c"/>
<path d="M128.6 909.1 V883.5 H151 V909.1" fill="none" stroke="#17263d" stroke-width="2" stroke-linejoin="round"/>
<path d="M128.6 909.1 V1011.7 M151 909.1 V1011.7" fill="none" stroke="#222224" stroke-width="2"/>
<line x1="127.6" y1="1011.7" x2="152" y2="1011.7" stroke="#222224" stroke-width="2"/>
<rect x="161" y="893.3" width="24.5" height="30.4" fill="#7eaee0"/>
<rect x="161" y="923.7" width="24.5" height="89" fill="#8a898c"/>
<path d="M162 923.7 V894.3 H184.5 V923.7" fill="none" stroke="#17263d" stroke-width="2" stroke-linejoin="round"/>
<path d="M162 923.7 V1011.7 M184.5 923.7 V1011.7" fill="none" stroke="#222224" stroke-width="2"/>
<line x1="161" y1="1011.7" x2="185.5" y2="1011.7" stroke="#222224" stroke-width="2"/>
<rect x="194.5" y="896.2" width="24.5" height="6" fill="#7eaee0"/>
<rect x="194.5" y="902.2" width="24.5" height="17.7" fill="#0b4ca1"/>
<rect x="194.5" y="919.9" width="24.5" height="92.8" fill="#8a898c"/>
<path d="M195.5 902.2 V897.2 H218 V902.2" fill="none" stroke="#17263d" stroke-width="2" stroke-linejoin="round"/>
<path d="M195.5 902.2 V919.9 M218 902.2 V919.9" fill="none" stroke="#0b1a33" stroke-width="2"/>
<path d="M195.5 919.9 V1011.7 M218 919.9 V1011.7" fill="none" stroke="#222224" stroke-width="2"/>
<line x1="194.5" y1="1011.7" x2="219" y2="1011.7" stroke="#222224" stroke-width="2"/>
<rect x="227.9" y="883.3" width="24.9" height="19.8" fill="#7eaee0"/>
<rect x="227.9" y="903.1" width="24.9" height="5.5" fill="#0b4ca1"/>
<rect x="227.9" y="908.6" width="24.9" height="104.1" fill="#8a898c"/>
<path d="M228.9 903.1 V884.3 H251.8 V903.1" fill="none" stroke="#17263d" stroke-width="2" stroke-linejoin="round"/>
<path d="M228.9 903.1 V908.6 M251.8 903.1 V908.6" fill="none" stroke="#0b1a33" stroke-width="2"/>
<path d="M228.9 908.6 V1011.7 M251.8 908.6 V1011.7" fill="none" stroke="#222224" stroke-width="2"/>
<line x1="227.9" y1="1011.7" x2="252.8" y2="1011.7" stroke="#222224" stroke-width="2"/>
<rect x="261.4" y="882.1" width="24.9" height="26.5" fill="#7eaee0"/>
<rect x="261.4" y="908.6" width="24.9" height="3.1" fill="#0b4ca1"/>
<rect x="261.4" y="911.7" width="24.9" height="101" fill="#8a898c"/>
<path d="M262.4 908.6 V883.1 H285.3 V908.6" fill="none" stroke="#17263d" stroke-width="2" stroke-linejoin="round"/>
<path d="M262.4 908.6 V911.7 M285.3 908.6 V911.7" fill="none" stroke="#0b1a33" stroke-width="2"/>
<path d="M262.4 911.7 V1011.7 M285.3 911.7 V1011.7" fill="none" stroke="#222224" stroke-width="2"/>
<line x1="261.4" y1="1011.7" x2="286.3" y2="1011.7" stroke="#222224" stroke-width="2"/>
<rect x="294.9" y="887.6" width="24.9" height="19.3" fill="#13a14a"/>
<rect x="294.9" y="906.9" width="24.9" height="11.7" fill="#0b4ca1"/>
<rect x="294.9" y="918.6" width="24.9" height="94.1" fill="#8a898c"/>
<path d="M295.9 906.9 V888.6 H318.8 V906.9" fill="none" stroke="#0d2a16" stroke-width="2" stroke-linejoin="round"/>
<path d="M295.9 906.9 V918.6 M318.8 906.9 V918.6" fill="none" stroke="#0b1a33" stroke-width="2"/>
<path d="M295.9 918.6 V1011.7 M318.8 918.6 V1011.7" fill="none" stroke="#222224" stroke-width="2"/>
<line x1="294.9" y1="1011.7" x2="319.8" y2="1011.7" stroke="#222224" stroke-width="2"/>
<rect x="328.7" y="892.8" width="24.6" height="17.5" fill="#ef9303"/>
<rect x="328.7" y="910.3" width="24.6" height="11.7" fill="#0b4ca1"/>
<rect x="328.7" y="922" width="24.6" height="90.7" fill="#8a898c"/>
<path d="M329.7 910.3 V893.8 H352.3 V910.3" fill="none" stroke="#3a2205" stroke-width="2" stroke-linejoin="round"/>
<path d="M329.7 910.3 V922 M352.3 910.3 V922" fill="none" stroke="#0b1a33" stroke-width="2"/>
<path d="M329.7 922 V1011.7 M352.3 922 V1011.7" fill="none" stroke="#222224" stroke-width="2"/>
<line x1="328.7" y1="1011.7" x2="353.3" y2="1011.7" stroke="#222224" stroke-width="2"/>
<rect x="362.2" y="888" width="24.6" height="12" fill="#ef9303"/>
<rect x="362.2" y="900" width="24.6" height="12.5" fill="#7eaee0"/>
<rect x="362.2" y="912.5" width="24.6" height="4.3" fill="#0b4ca1"/>
<rect x="362.2" y="916.8" width="24.6" height="95.9" fill="#8a898c"/>
<path d="M363.2 900 V889 H385.8 V900" fill="none" stroke="#3a2205" stroke-width="2" stroke-linejoin="round"/>
<path d="M363.2 900 V912.5 M385.8 900 V912.5" fill="none" stroke="#17263d" stroke-width="2"/>
<path d="M363.2 912.5 V916.8 M385.8 912.5 V916.8" fill="none" stroke="#0b1a33" stroke-width="2"/>
<path d="M363.2 916.8 V1011.7 M385.8 916.8 V1011.7" fill="none" stroke="#222224" stroke-width="2"/>
<line x1="362.2" y1="1011.7" x2="386.8" y2="1011.7" stroke="#222224" stroke-width="2"/>
<rect x="395.7" y="883.8" width="24.6" height="51.1" fill="#13a14a"/>
<rect x="395.7" y="934.9" width="24.6" height="77.8" fill="#8a898c"/>
<path d="M396.7 934.9 V884.8 H419.3 V934.9" fill="none" stroke="#0d2a16" stroke-width="2" stroke-linejoin="round"/>
<path d="M396.7 934.9 V1011.7 M419.3 934.9 V1011.7" fill="none" stroke="#222224" stroke-width="2"/>
<line x1="395.7" y1="1011.7" x2="420.3" y2="1011.7" stroke="#222224" stroke-width="2"/>
<rect x="429.2" y="896.6" width="24.9" height="46.9" fill="#ef9303"/>
<rect x="429.2" y="943.5" width="24.9" height="69.2" fill="#8a898c"/>
<path d="M430.2 943.5 V897.6 H453.1 V943.5" fill="none" stroke="#3a2205" stroke-width="2" stroke-linejoin="round"/>
<path d="M430.2 943.5 V1011.7 M453.1 943.5 V1011.7" fill="none" stroke="#222224" stroke-width="2"/>
<line x1="429.2" y1="1011.7" x2="454.1" y2="1011.7" stroke="#222224" stroke-width="2"/>
<rect x="463.2" y="917.2" width="24.4" height="95.5" fill="#0b4ca1"/>
<path d="M464.2 1011.7 V918.2 H486.6 V1011.7" fill="none" stroke="#0b1a33" stroke-width="2" stroke-linejoin="round"/>
<line x1="463.2" y1="1011.7" x2="487.6" y2="1011.7" stroke="#222224" stroke-width="2"/>
<rect x="89.3" y="806" width="403.1" height="206.7" fill="none" stroke="#1e1e1e" stroke-width="2" stroke-linejoin="round"/>
<text transform="translate(112.59 1009.5) rotate(-90) scale(0.65 1)" class="lb" textLength="73.98" lengthAdjust="spacing" stroke-width="2.2" style="font-size:20.5px">ROZ98</text>
<text transform="translate(112.59 1009.5) rotate(-90) scale(0.65 1)" class="lb" textLength="73.98" lengthAdjust="spacing" stroke-width="0.7" style="stroke:#fff;font-size:20.5px">ROZ98</text>
<text transform="translate(146.34 1009.5) rotate(-90) scale(0.65 1)" class="lb" textLength="41.62" lengthAdjust="spacing" stroke-width="2.2" style="font-size:20.5px">E20</text>
<text transform="translate(146.34 1009.5) rotate(-90) scale(0.65 1)" class="lb" textLength="41.62" lengthAdjust="spacing" stroke-width="0.7" style="stroke:#fff;font-size:20.5px">E20</text>
<text transform="translate(179.79 1009.5) rotate(-90) scale(0.65 1)" class="lb" textLength="42.08" lengthAdjust="spacing" stroke-width="2.2" style="font-size:20.5px">E25</text>
<text transform="translate(179.79 1009.5) rotate(-90) scale(0.65 1)" class="lb" textLength="42.08" lengthAdjust="spacing" stroke-width="0.7" style="stroke:#fff;font-size:20.5px">E25</text>
<text transform="translate(213.29 1009.5) rotate(-90) scale(0.65 1)" class="lb" textLength="75.53" lengthAdjust="spacing" stroke-width="2.2" style="font-size:20.5px">M15E5</text>
<text transform="translate(213.29 1009.5) rotate(-90) scale(0.65 1)" class="lb" textLength="75.53" lengthAdjust="spacing" stroke-width="0.7" style="stroke:#fff;font-size:20.5px">M15E5</text>
<text transform="translate(246.89 1009.5) rotate(-90) scale(0.65 1)" class="lb" textLength="75.68" lengthAdjust="spacing" stroke-width="2.2" style="font-size:20.5px">M5E15</text>
<text transform="translate(246.89 1009.5) rotate(-90) scale(0.65 1)" class="lb" textLength="75.68" lengthAdjust="spacing" stroke-width="0.7" style="stroke:#fff;font-size:20.5px">M5E15</text>
<text transform="translate(280.39 1009.5) rotate(-90) scale(0.65 1)" class="lb" textLength="75.99" lengthAdjust="spacing" stroke-width="2.2" style="font-size:20.5px">M3E20</text>
<text transform="translate(280.39 1009.5) rotate(-90) scale(0.65 1)" class="lb" textLength="75.99" lengthAdjust="spacing" stroke-width="0.7" style="stroke:#fff;font-size:20.5px">M3E20</text>
<text transform="translate(313.89 1009.5) rotate(-90) scale(0.65 1)" class="lb" textLength="113.75" lengthAdjust="spacing" stroke-width="2.2" style="font-size:20.5px">M10,2B15</text>
<text transform="translate(313.89 1009.5) rotate(-90) scale(0.65 1)" class="lb" textLength="113.75" lengthAdjust="spacing" stroke-width="0.7" style="stroke:#fff;font-size:20.5px">M10,2B15</text>
<text transform="translate(347.54 1009.5) rotate(-90) scale(0.65 1)" class="lb" textLength="105.58" lengthAdjust="spacing" stroke-width="2.2" style="font-size:20.5px">M10,iB15</text>
<text transform="translate(347.54 1009.5) rotate(-90) scale(0.65 1)" class="lb" textLength="105.58" lengthAdjust="spacing" stroke-width="0.7" style="stroke:#fff;font-size:20.5px">M10,iB15</text>
<text transform="translate(381.04 1009.5) rotate(-90) scale(0.65 1)" class="lb" textLength="141.65" lengthAdjust="spacing" stroke-width="2.2" style="font-size:20.5px">M5E10,2B10</text>
<text transform="translate(381.04 1009.5) rotate(-90) scale(0.65 1)" class="lb" textLength="141.65" lengthAdjust="spacing" stroke-width="0.7" style="stroke:#fff;font-size:20.5px">M5E10,2B10</text>
<text transform="translate(414.54 1009.5) rotate(-90) scale(0.65 1)" class="lb" textLength="58.42" lengthAdjust="spacing" stroke-width="2.2" style="font-size:20.5px">2B40</text>
<text transform="translate(414.54 1009.5) rotate(-90) scale(0.65 1)" class="lb" textLength="58.42" lengthAdjust="spacing" stroke-width="0.7" style="stroke:#fff;font-size:20.5px">2B40</text>
<text transform="translate(448.19 1009.5) rotate(-90) scale(0.65 1)" class="lb" textLength="52.87" lengthAdjust="spacing" stroke-width="2.2" style="font-size:20.5px">iB40</text>
<text transform="translate(448.19 1009.5) rotate(-90) scale(0.65 1)" class="lb" textLength="52.87" lengthAdjust="spacing" stroke-width="0.7" style="stroke:#fff;font-size:20.5px">iB40</text>
<text transform="translate(481.94 1009.5) rotate(-90) scale(0.65 1)" class="lb" textLength="60.88" lengthAdjust="spacing" stroke-width="2.2" style="font-size:20.5px">M100</text>
<text transform="translate(481.94 1009.5) rotate(-90) scale(0.65 1)" class="lb" textLength="60.88" lengthAdjust="spacing" stroke-width="0.7" style="stroke:#fff;font-size:20.5px">M100</text>
<clipPath id="c7"><rect x="501.5" y="806.3" width="402.6" height="206.4"/></clipPath>
<line x1="502.5" y1="875" x2="903.1" y2="875" stroke="#dddddd" stroke-width="1.4"/>
<line x1="502.5" y1="943" x2="903.1" y2="943" stroke="#dddddd" stroke-width="1.4"/>
<rect x="505.7" y="887.3" width="25" height="125.4" fill="#0a0a0a"/>
<rect x="507.9" y="889.5" width="20.6" height="122.4" fill="url(#hatch7)"/>
<rect x="539.3" y="890.2" width="24.8" height="24.6" fill="#7eaee0"/>
<rect x="539.3" y="914.8" width="24.8" height="97.9" fill="#8a898c"/>
<path d="M540.3 914.8 V891.2 H563.1 V914.8" fill="none" stroke="#17263d" stroke-width="2" stroke-linejoin="round"/>
<path d="M540.3 914.8 V1011.7 M563.1 914.8 V1011.7" fill="none" stroke="#222224" stroke-width="2"/>
<line x1="539.3" y1="1011.7" x2="564.1" y2="1011.7" stroke="#222224" stroke-width="2"/>
<rect x="573.2" y="901.4" width="24.5" height="27.8" fill="#7eaee0"/>
<rect x="573.2" y="929.2" width="24.5" height="83.5" fill="#8a898c"/>
<path d="M574.2 929.2 V902.4 H596.7 V929.2" fill="none" stroke="#17263d" stroke-width="2" stroke-linejoin="round"/>
<path d="M574.2 929.2 V1011.7 M596.7 929.2 V1011.7" fill="none" stroke="#222224" stroke-width="2"/>
<line x1="573.2" y1="1011.7" x2="597.7" y2="1011.7" stroke="#222224" stroke-width="2"/>
<rect x="606.7" y="901.7" width="24.9" height="5.7" fill="#7eaee0"/>
<rect x="606.7" y="907.4" width="24.9" height="16" fill="#0b4ca1"/>
<rect x="606.7" y="923.4" width="24.9" height="89.3" fill="#8a898c"/>
<path d="M607.7 907.4 V902.7 H630.6 V907.4" fill="none" stroke="#17263d" stroke-width="2" stroke-linejoin="round"/>
<path d="M607.7 907.4 V923.4 M630.6 907.4 V923.4" fill="none" stroke="#0b1a33" stroke-width="2"/>
<path d="M607.7 923.4 V1011.7 M630.6 923.4 V1011.7" fill="none" stroke="#222224" stroke-width="2"/>
<line x1="606.7" y1="1011.7" x2="631.6" y2="1011.7" stroke="#222224" stroke-width="2"/>
<rect x="640.1" y="892.8" width="24.8" height="18.9" fill="#7eaee0"/>
<rect x="640.1" y="911.7" width="24.8" height="4.3" fill="#0b4ca1"/>
<rect x="640.1" y="916" width="24.8" height="96.7" fill="#8a898c"/>
<path d="M641.1 911.7 V893.8 H663.9 V911.7" fill="none" stroke="#17263d" stroke-width="2" stroke-linejoin="round"/>
<path d="M641.1 911.7 V916 M663.9 911.7 V916" fill="none" stroke="#0b1a33" stroke-width="2"/>
<path d="M641.1 916 V1011.7 M663.9 916 V1011.7" fill="none" stroke="#222224" stroke-width="2"/>
<line x1="640.1" y1="1011.7" x2="664.9" y2="1011.7" stroke="#222224" stroke-width="2"/>
<rect x="673.5" y="888" width="25" height="25.7" fill="#7eaee0"/>
<rect x="673.5" y="913.7" width="25" height="2.8" fill="#0b4ca1"/>
<rect x="673.5" y="916.5" width="25" height="96.2" fill="#8a898c"/>
<path d="M674.5 913.7 V889 H697.5 V913.7" fill="none" stroke="#17263d" stroke-width="2" stroke-linejoin="round"/>
<path d="M674.5 913.7 V916.5 M697.5 913.7 V916.5" fill="none" stroke="#0b1a33" stroke-width="2"/>
<path d="M674.5 916.5 V1011.7 M697.5 916.5 V1011.7" fill="none" stroke="#222224" stroke-width="2"/>
<line x1="673.5" y1="1011.7" x2="698.5" y2="1011.7" stroke="#222224" stroke-width="2"/>
<rect x="707.1" y="895.4" width="24.4" height="18.3" fill="#13a14a"/>
<rect x="707.1" y="913.7" width="24.4" height="10.4" fill="#0b4ca1"/>
<rect x="707.1" y="924.1" width="24.4" height="88.6" fill="#8a898c"/>
<path d="M708.1 913.7 V896.4 H730.5 V913.7" fill="none" stroke="#0d2a16" stroke-width="2" stroke-linejoin="round"/>
<path d="M708.1 913.7 V924.1 M730.5 913.7 V924.1" fill="none" stroke="#0b1a33" stroke-width="2"/>
<path d="M708.1 924.1 V1011.7 M730.5 924.1 V1011.7" fill="none" stroke="#222224" stroke-width="2"/>
<line x1="707.1" y1="1011.7" x2="731.5" y2="1011.7" stroke="#222224" stroke-width="2"/>
<rect x="740.5" y="900.5" width="24.5" height="17.7" fill="#ef9303"/>
<rect x="740.5" y="918.2" width="24.5" height="9.8" fill="#0b4ca1"/>
<rect x="740.5" y="928" width="24.5" height="84.7" fill="#8a898c"/>
<path d="M741.5 918.2 V901.5 H764 V918.2" fill="none" stroke="#3a2205" stroke-width="2" stroke-linejoin="round"/>
<path d="M741.5 918.2 V928 M764 918.2 V928" fill="none" stroke="#0b1a33" stroke-width="2"/>
<path d="M741.5 928 V1011.7 M764 928 V1011.7" fill="none" stroke="#222224" stroke-width="2"/>
<line x1="740.5" y1="1011.7" x2="765" y2="1011.7" stroke="#222224" stroke-width="2"/>
<rect x="774.2" y="895.9" width="24.6" height="12" fill="#ef9303"/>
<rect x="774.2" y="907.9" width="24.6" height="10.7" fill="#7eaee0"/>
<rect x="774.2" y="918.6" width="24.6" height="6" fill="#0b4ca1"/>
<rect x="774.2" y="924.6" width="24.6" height="88.1" fill="#8a898c"/>
<path d="M775.2 907.9 V896.9 H797.8 V907.9" fill="none" stroke="#3a2205" stroke-width="2" stroke-linejoin="round"/>
<path d="M775.2 907.9 V918.6 M797.8 907.9 V918.6" fill="none" stroke="#17263d" stroke-width="2"/>
<path d="M775.2 918.6 V924.6 M797.8 918.6 V924.6" fill="none" stroke="#0b1a33" stroke-width="2"/>
<path d="M775.2 924.6 V1011.7 M797.8 924.6 V1011.7" fill="none" stroke="#222224" stroke-width="2"/>
<line x1="774.2" y1="1011.7" x2="798.8" y2="1011.7" stroke="#222224" stroke-width="2"/>
<rect x="807.4" y="896.2" width="25.3" height="46.8" fill="#13a14a"/>
<rect x="807.4" y="943" width="25.3" height="69.7" fill="#8a898c"/>
<path d="M808.4 943 V897.2 H831.7 V943" fill="none" stroke="#0d2a16" stroke-width="2" stroke-linejoin="round"/>
<path d="M808.4 943 V1011.7 M831.7 943 V1011.7" fill="none" stroke="#222224" stroke-width="2"/>
<line x1="807.4" y1="1011.7" x2="832.7" y2="1011.7" stroke="#222224" stroke-width="2"/>
<rect x="841.3" y="905.2" width="25" height="42.9" fill="#ef9303"/>
<rect x="841.3" y="948.1" width="25" height="64.6" fill="#8a898c"/>
<path d="M842.3 948.1 V906.2 H865.3 V948.1" fill="none" stroke="#3a2205" stroke-width="2" stroke-linejoin="round"/>
<path d="M842.3 948.1 V1011.7 M865.3 948.1 V1011.7" fill="none" stroke="#222224" stroke-width="2"/>
<line x1="841.3" y1="1011.7" x2="866.3" y2="1011.7" stroke="#222224" stroke-width="2"/>
<rect x="874.9" y="922.9" width="24.8" height="89.8" fill="#0b4ca1"/>
<path d="M875.9 1011.7 V923.9 H898.7 V1011.7" fill="none" stroke="#0b1a33" stroke-width="2" stroke-linejoin="round"/>
<line x1="874.9" y1="1011.7" x2="899.7" y2="1011.7" stroke="#222224" stroke-width="2"/>
<rect x="501.5" y="806.3" width="402.6" height="206.4" fill="none" stroke="#1e1e1e" stroke-width="2" stroke-linejoin="round"/>
<text transform="translate(524.74 1009.5) rotate(-90) scale(0.65 1)" class="lb" textLength="73.98" lengthAdjust="spacing" stroke-width="2.2" style="font-size:20.5px">ROZ98</text>
<text transform="translate(524.74 1009.5) rotate(-90) scale(0.65 1)" class="lb" textLength="73.98" lengthAdjust="spacing" stroke-width="0.7" style="stroke:#fff;font-size:20.5px">ROZ98</text>
<text transform="translate(558.24 1009.5) rotate(-90) scale(0.65 1)" class="lb" textLength="41.62" lengthAdjust="spacing" stroke-width="2.2" style="font-size:20.5px">E20</text>
<text transform="translate(558.24 1009.5) rotate(-90) scale(0.65 1)" class="lb" textLength="41.62" lengthAdjust="spacing" stroke-width="0.7" style="stroke:#fff;font-size:20.5px">E20</text>
<text transform="translate(591.99 1009.5) rotate(-90) scale(0.65 1)" class="lb" textLength="42.08" lengthAdjust="spacing" stroke-width="2.2" style="font-size:20.5px">E25</text>
<text transform="translate(591.99 1009.5) rotate(-90) scale(0.65 1)" class="lb" textLength="42.08" lengthAdjust="spacing" stroke-width="0.7" style="stroke:#fff;font-size:20.5px">E25</text>
<text transform="translate(625.69 1009.5) rotate(-90) scale(0.65 1)" class="lb" textLength="75.53" lengthAdjust="spacing" stroke-width="2.2" style="font-size:20.5px">M15E5</text>
<text transform="translate(625.69 1009.5) rotate(-90) scale(0.65 1)" class="lb" textLength="75.53" lengthAdjust="spacing" stroke-width="0.7" style="stroke:#fff;font-size:20.5px">M15E5</text>
<text transform="translate(659.04 1009.5) rotate(-90) scale(0.65 1)" class="lb" textLength="75.68" lengthAdjust="spacing" stroke-width="2.2" style="font-size:20.5px">M5E15</text>
<text transform="translate(659.04 1009.5) rotate(-90) scale(0.65 1)" class="lb" textLength="75.68" lengthAdjust="spacing" stroke-width="0.7" style="stroke:#fff;font-size:20.5px">M5E15</text>
<text transform="translate(692.54 1009.5) rotate(-90) scale(0.65 1)" class="lb" textLength="75.99" lengthAdjust="spacing" stroke-width="2.2" style="font-size:20.5px">M3E20</text>
<text transform="translate(692.54 1009.5) rotate(-90) scale(0.65 1)" class="lb" textLength="75.99" lengthAdjust="spacing" stroke-width="0.7" style="stroke:#fff;font-size:20.5px">M3E20</text>
<text transform="translate(725.84 1009.5) rotate(-90) scale(0.65 1)" class="lb" textLength="113.75" lengthAdjust="spacing" stroke-width="2.2" style="font-size:20.5px">M10,2B15</text>
<text transform="translate(725.84 1009.5) rotate(-90) scale(0.65 1)" class="lb" textLength="113.75" lengthAdjust="spacing" stroke-width="0.7" style="stroke:#fff;font-size:20.5px">M10,2B15</text>
<text transform="translate(759.29 1009.5) rotate(-90) scale(0.65 1)" class="lb" textLength="105.58" lengthAdjust="spacing" stroke-width="2.2" style="font-size:20.5px">M10,iB15</text>
<text transform="translate(759.29 1009.5) rotate(-90) scale(0.65 1)" class="lb" textLength="105.58" lengthAdjust="spacing" stroke-width="0.7" style="stroke:#fff;font-size:20.5px">M10,iB15</text>
<text transform="translate(793.04 1009.5) rotate(-90) scale(0.65 1)" class="lb" textLength="141.65" lengthAdjust="spacing" stroke-width="2.2" style="font-size:20.5px">M5E10,2B10</text>
<text transform="translate(793.04 1009.5) rotate(-90) scale(0.65 1)" class="lb" textLength="141.65" lengthAdjust="spacing" stroke-width="0.7" style="stroke:#fff;font-size:20.5px">M5E10,2B10</text>
<text transform="translate(826.59 1009.5) rotate(-90) scale(0.65 1)" class="lb" textLength="58.42" lengthAdjust="spacing" stroke-width="2.2" style="font-size:20.5px">2B40</text>
<text transform="translate(826.59 1009.5) rotate(-90) scale(0.65 1)" class="lb" textLength="58.42" lengthAdjust="spacing" stroke-width="0.7" style="stroke:#fff;font-size:20.5px">2B40</text>
<text transform="translate(860.34 1009.5) rotate(-90) scale(0.65 1)" class="lb" textLength="52.87" lengthAdjust="spacing" stroke-width="2.2" style="font-size:20.5px">iB40</text>
<text transform="translate(860.34 1009.5) rotate(-90) scale(0.65 1)" class="lb" textLength="52.87" lengthAdjust="spacing" stroke-width="0.7" style="stroke:#fff;font-size:20.5px">iB40</text>
<text transform="translate(893.84 1009.5) rotate(-90) scale(0.65 1)" class="lb" textLength="60.88" lengthAdjust="spacing" stroke-width="2.2" style="font-size:20.5px">M100</text>
<text transform="translate(893.84 1009.5) rotate(-90) scale(0.65 1)" class="lb" textLength="60.88" lengthAdjust="spacing" stroke-width="0.7" style="stroke:#fff;font-size:20.5px">M100</text>
<clipPath id="c8"><rect x="90" y="1039.6" width="402.4" height="205"/></clipPath>
<line x1="91" y1="1108.5" x2="491.4" y2="1108.5" stroke="#dddddd" stroke-width="1.4"/>
<line x1="91" y1="1176.8" x2="491.4" y2="1176.8" stroke="#dddddd" stroke-width="1.4"/>
<rect x="94.5" y="1175" width="24.5" height="69.6" fill="#0a0a0a"/>
<rect x="96.7" y="1177.2" width="20.1" height="66.6" fill="url(#hatch8)"/>
<rect x="128.3" y="1171.1" width="24.1" height="15.4" fill="#7eaee0"/>
<rect x="128.3" y="1186.5" width="24.1" height="58.1" fill="#8a898c"/>
<path d="M129.3 1186.5 V1172.1 H151.4 V1186.5" fill="none" stroke="#17263d" stroke-width="2" stroke-linejoin="round"/>
<path d="M129.3 1186.5 V1244.6 M151.4 1186.5 V1244.6" fill="none" stroke="#222224" stroke-width="2"/>
<rect x="162" y="1172.1" width="24" height="18.4" fill="#7eaee0"/>
<rect x="162" y="1190.5" width="24" height="54.1" fill="#8a898c"/>
<path d="M163 1190.5 V1173.1 H185 V1190.5" fill="none" stroke="#17263d" stroke-width="2" stroke-linejoin="round"/>
<path d="M163 1190.5 V1244.6 M185 1190.5 V1244.6" fill="none" stroke="#222224" stroke-width="2"/>
<rect x="195.3" y="1160.1" width="24.1" height="3.8" fill="#7eaee0"/>
<rect x="195.3" y="1163.9" width="24.1" height="12.9" fill="#0b4ca1"/>
<rect x="195.3" y="1176.8" width="24.1" height="67.8" fill="#8a898c"/>
<path d="M196.3 1163.9 V1161.1 H218.4 V1163.9" fill="none" stroke="#17263d" stroke-width="2" stroke-linejoin="round"/>
<path d="M196.3 1163.9 V1176.8 M218.4 1163.9 V1176.8" fill="none" stroke="#0b1a33" stroke-width="2"/>
<path d="M196.3 1176.8 V1244.6 M218.4 1176.8 V1244.6" fill="none" stroke="#222224" stroke-width="2"/>
<rect x="228.4" y="1175" width="24.7" height="11.5" fill="#7eaee0"/>
<rect x="228.4" y="1186.5" width="24.7" height="2.3" fill="#0b4ca1"/>
<rect x="228.4" y="1188.8" width="24.7" height="55.8" fill="#8a898c"/>
<path d="M229.4 1186.5 V1176 H252.1 V1186.5" fill="none" stroke="#17263d" stroke-width="2" stroke-linejoin="round"/>
<path d="M229.4 1186.5 V1188.8 M252.1 1186.5 V1188.8" fill="none" stroke="#0b1a33" stroke-width="2"/>
<path d="M229.4 1188.8 V1244.6 M252.1 1188.8 V1244.6" fill="none" stroke="#222224" stroke-width="2"/>
<rect x="262.3" y="1176.2" width="24.5" height="14.3" fill="#7eaee0"/>
<rect x="262.3" y="1190.5" width="24.5" height="1.7" fill="#0b4ca1"/>
<rect x="262.3" y="1192.2" width="24.5" height="52.4" fill="#8a898c"/>
<path d="M263.3 1190.5 V1177.2 H285.8 V1190.5" fill="none" stroke="#17263d" stroke-width="2" stroke-linejoin="round"/>
<path d="M263.3 1190.5 V1192.2 M285.8 1190.5 V1192.2" fill="none" stroke="#0b1a33" stroke-width="2"/>
<path d="M263.3 1192.2 V1244.6 M285.8 1192.2 V1244.6" fill="none" stroke="#222224" stroke-width="2"/>
<rect x="295.8" y="1173.8" width="24.4" height="10.7" fill="#13a14a"/>
<rect x="295.8" y="1184.5" width="24.4" height="7.2" fill="#0b4ca1"/>
<rect x="295.8" y="1191.7" width="24.4" height="52.9" fill="#8a898c"/>
<path d="M296.8 1184.5 V1174.8 H319.2 V1184.5" fill="none" stroke="#0d2a16" stroke-width="2" stroke-linejoin="round"/>
<path d="M296.8 1184.5 V1191.7 M319.2 1184.5 V1191.7" fill="none" stroke="#0b1a33" stroke-width="2"/>
<path d="M296.8 1191.7 V1244.6 M319.2 1191.7 V1244.6" fill="none" stroke="#222224" stroke-width="2"/>
<rect x="329.3" y="1172.5" width="24.5" height="10.6" fill="#ef9303"/>
<rect x="329.3" y="1183.1" width="24.5" height="7.4" fill="#0b4ca1"/>
<rect x="329.3" y="1190.5" width="24.5" height="54.1" fill="#8a898c"/>
<path d="M330.3 1183.1 V1173.5 H352.8 V1183.1" fill="none" stroke="#3a2205" stroke-width="2" stroke-linejoin="round"/>
<path d="M330.3 1183.1 V1190.5 M352.8 1183.1 V1190.5" fill="none" stroke="#0b1a33" stroke-width="2"/>
<path d="M330.3 1190.5 V1244.6 M352.8 1190.5 V1244.6" fill="none" stroke="#222224" stroke-width="2"/>
<rect x="362.5" y="1175.9" width="25.1" height="6.5" fill="#ef9303"/>
<rect x="362.5" y="1182.4" width="25.1" height="7.2" fill="#7eaee0"/>
<rect x="362.5" y="1189.6" width="25.1" height="3.1" fill="#0b4ca1"/>
<rect x="362.5" y="1192.7" width="25.1" height="51.9" fill="#8a898c"/>
<path d="M363.5 1182.4 V1176.9 H386.6 V1182.4" fill="none" stroke="#3a2205" stroke-width="2" stroke-linejoin="round"/>
<path d="M363.5 1182.4 V1189.6 M386.6 1182.4 V1189.6" fill="none" stroke="#17263d" stroke-width="2"/>
<path d="M363.5 1189.6 V1192.7 M386.6 1189.6 V1192.7" fill="none" stroke="#0b1a33" stroke-width="2"/>
<path d="M363.5 1192.7 V1244.6 M386.6 1192.7 V1244.6" fill="none" stroke="#222224" stroke-width="2"/>
<rect x="396.2" y="1175.9" width="24.8" height="27.5" fill="#13a14a"/>
<rect x="396.2" y="1203.4" width="24.8" height="41.2" fill="#8a898c"/>
<path d="M397.2 1203.4 V1176.9 H420 V1203.4" fill="none" stroke="#0d2a16" stroke-width="2" stroke-linejoin="round"/>
<path d="M397.2 1203.4 V1244.6 M420 1203.4 V1244.6" fill="none" stroke="#222224" stroke-width="2"/>
<rect x="429.5" y="1169.9" width="25.1" height="30.9" fill="#ef9303"/>
<rect x="429.5" y="1200.8" width="25.1" height="43.8" fill="#8a898c"/>
<path d="M430.5 1200.8 V1170.9 H453.6 V1200.8" fill="none" stroke="#3a2205" stroke-width="2" stroke-linejoin="round"/>
<path d="M430.5 1200.8 V1244.6 M453.6 1200.8 V1244.6" fill="none" stroke="#222224" stroke-width="2"/>
<rect x="463.2" y="1230.4" width="25.3" height="14.2" fill="#0b4ca1"/>
<path d="M464.2 1244.6 V1231.4 H487.5 V1244.6" fill="none" stroke="#0b1a33" stroke-width="2" stroke-linejoin="round"/>
<path d="M90 1244.6 V1039.6 H492.4 V1244.6" fill="none" stroke="#1e1e1e" stroke-width="2" stroke-linejoin="round"/>
<text transform="translate(112.75 1167.8) rotate(-90) scale(0.7 1)" class="lb" textLength="66.43" lengthAdjust="spacing" stroke-width="3.6" style="font-size:19px">ROZ98</text>
<text transform="translate(112.75 1167.8) rotate(-90) scale(0.7 1)" class="lb" textLength="66.43" lengthAdjust="spacing" stroke-width="0.7" style="stroke:#fff;font-size:19px">ROZ98</text>
<text transform="translate(146.35 1163.5) rotate(-90) scale(0.7 1)" class="lb" textLength="36.43" lengthAdjust="spacing" stroke-width="3.6" style="font-size:19px">E20</text>
<text transform="translate(146.35 1163.5) rotate(-90) scale(0.7 1)" class="lb" textLength="36.43" lengthAdjust="spacing" stroke-width="0.7" style="stroke:#fff;font-size:19px">E20</text>
<text transform="translate(180 1163.5) rotate(-90) scale(0.7 1)" class="lb" textLength="36.86" lengthAdjust="spacing" stroke-width="3.6" style="font-size:19px">E25</text>
<text transform="translate(180 1163.5) rotate(-90) scale(0.7 1)" class="lb" textLength="36.86" lengthAdjust="spacing" stroke-width="0.7" style="stroke:#fff;font-size:19px">E25</text>
<text transform="translate(213.35 1150.6) rotate(-90) scale(0.7 1)" class="lb" textLength="67.86" lengthAdjust="spacing" stroke-width="3.6" style="font-size:19px">M15E5</text>
<text transform="translate(213.35 1150.6) rotate(-90) scale(0.7 1)" class="lb" textLength="67.86" lengthAdjust="spacing" stroke-width="0.7" style="stroke:#fff;font-size:19px">M15E5</text>
<text transform="translate(246.75 1167.8) rotate(-90) scale(0.7 1)" class="lb" textLength="68" lengthAdjust="spacing" stroke-width="3.6" style="font-size:19px">M5E15</text>
<text transform="translate(246.75 1167.8) rotate(-90) scale(0.7 1)" class="lb" textLength="68" lengthAdjust="spacing" stroke-width="0.7" style="stroke:#fff;font-size:19px">M5E15</text>
<text transform="translate(280.55 1167.8) rotate(-90) scale(0.7 1)" class="lb" textLength="68.29" lengthAdjust="spacing" stroke-width="3.6" style="font-size:19px">M3E20</text>
<text transform="translate(280.55 1167.8) rotate(-90) scale(0.7 1)" class="lb" textLength="68.29" lengthAdjust="spacing" stroke-width="0.7" style="stroke:#fff;font-size:19px">M3E20</text>
<text transform="translate(314 1167.8) rotate(-90) scale(0.7 1)" class="lb" textLength="103.29" lengthAdjust="spacing" stroke-width="3.6" style="font-size:19px">M10,2B15</text>
<text transform="translate(314 1167.8) rotate(-90) scale(0.7 1)" class="lb" textLength="103.29" lengthAdjust="spacing" stroke-width="0.7" style="stroke:#fff;font-size:19px">M10,2B15</text>
<text transform="translate(347.55 1167.6) rotate(-90) scale(0.7 1)" class="lb" textLength="95.71" lengthAdjust="spacing" stroke-width="3.6" style="font-size:19px">M10,iB15</text>
<text transform="translate(347.55 1167.6) rotate(-90) scale(0.7 1)" class="lb" textLength="95.71" lengthAdjust="spacing" stroke-width="0.7" style="stroke:#fff;font-size:19px">M10,iB15</text>
<text transform="translate(381.05 1170.3) rotate(-90) scale(0.7 1)" class="lb" textLength="129.14" lengthAdjust="spacing" stroke-width="3.6" style="font-size:19px">M5E10,2B10</text>
<text transform="translate(381.05 1170.3) rotate(-90) scale(0.7 1)" class="lb" textLength="129.14" lengthAdjust="spacing" stroke-width="0.7" style="stroke:#fff;font-size:19px">M5E10,2B10</text>
<text transform="translate(414.6 1168.6) rotate(-90) scale(0.7 1)" class="lb" textLength="52" lengthAdjust="spacing" stroke-width="3.6" style="font-size:19px">2B40</text>
<text transform="translate(414.6 1168.6) rotate(-90) scale(0.7 1)" class="lb" textLength="52" lengthAdjust="spacing" stroke-width="0.7" style="stroke:#fff;font-size:19px">2B40</text>
<text transform="translate(448.05 1163.5) rotate(-90) scale(0.7 1)" class="lb" textLength="46.86" lengthAdjust="spacing" stroke-width="3.6" style="font-size:19px">iB40</text>
<text transform="translate(448.05 1163.5) rotate(-90) scale(0.7 1)" class="lb" textLength="46.86" lengthAdjust="spacing" stroke-width="0.7" style="stroke:#fff;font-size:19px">iB40</text>
<text transform="translate(481.85 1223.6) rotate(-90) scale(0.7 1)" class="lb" textLength="54.29" lengthAdjust="spacing" stroke-width="3.6" style="font-size:19px">M100</text>
<text transform="translate(481.85 1223.6) rotate(-90) scale(0.7 1)" class="lb" textLength="54.29" lengthAdjust="spacing" stroke-width="0.7" style="stroke:#fff;font-size:19px">M100</text>
<clipPath id="c9"><rect x="501.5" y="1039.8" width="402.6" height="205.2"/></clipPath>
<line x1="502.5" y1="1108.5" x2="903.1" y2="1108.5" stroke="#dddddd" stroke-width="1.4"/>
<line x1="502.5" y1="1176.8" x2="903.1" y2="1176.8" stroke="#dddddd" stroke-width="1.4"/>
<rect x="505.7" y="1205.1" width="25" height="39.9" fill="#0a0a0a"/>
<rect x="507.9" y="1207.3" width="20.6" height="36.9" fill="url(#hatch9)"/>
<rect x="539.3" y="1199.1" width="25.3" height="10.3" fill="#7eaee0"/>
<rect x="539.3" y="1209.4" width="25.3" height="35.6" fill="#8a898c"/>
<path d="M540.3 1209.4 V1200.1 H563.6 V1209.4" fill="none" stroke="#17263d" stroke-width="2" stroke-linejoin="round"/>
<path d="M540.3 1209.4 V1245 M563.6 1209.4 V1245" fill="none" stroke="#222224" stroke-width="2"/>
<rect x="573.2" y="1197.4" width="24.5" height="13.2" fill="#7eaee0"/>
<rect x="573.2" y="1210.6" width="24.5" height="34.4" fill="#8a898c"/>
<path d="M574.2 1210.6 V1198.4 H596.7 V1210.6" fill="none" stroke="#17263d" stroke-width="2" stroke-linejoin="round"/>
<path d="M574.2 1210.6 V1245 M596.7 1210.6 V1245" fill="none" stroke="#222224" stroke-width="2"/>
<rect x="606.7" y="1187.9" width="24.9" height="2.6" fill="#7eaee0"/>
<rect x="606.7" y="1190.5" width="24.9" height="8.6" fill="#0b4ca1"/>
<rect x="606.7" y="1199.1" width="24.9" height="45.9" fill="#8a898c"/>
<path d="M607.7 1190.5 V1188.9 H630.6 V1190.5" fill="none" stroke="#17263d" stroke-width="2" stroke-linejoin="round"/>
<path d="M607.7 1190.5 V1199.1 M630.6 1190.5 V1199.1" fill="none" stroke="#0b1a33" stroke-width="2"/>
<path d="M607.7 1199.1 V1245 M630.6 1199.1 V1245" fill="none" stroke="#222224" stroke-width="2"/>
<rect x="640.1" y="1199.1" width="24.8" height="7.4" fill="#7eaee0"/>
<rect x="640.1" y="1206.5" width="24.8" height="1.2" fill="#0b4ca1"/>
<rect x="640.1" y="1207.7" width="24.8" height="37.3" fill="#8a898c"/>
<path d="M641.1 1206.5 V1200.1 H663.9 V1206.5" fill="none" stroke="#17263d" stroke-width="2" stroke-linejoin="round"/>
<path d="M641.1 1206.5 V1207.7 M663.9 1206.5 V1207.7" fill="none" stroke="#0b1a33" stroke-width="2"/>
<path d="M641.1 1207.7 V1245 M663.9 1207.7 V1245" fill="none" stroke="#222224" stroke-width="2"/>
<rect x="673.5" y="1198.2" width="25" height="9.5" fill="#7eaee0"/>
<rect x="673.5" y="1207.7" width="25" height="1.2" fill="#0b4ca1"/>
<rect x="673.5" y="1208.9" width="25" height="36.1" fill="#8a898c"/>
<path d="M674.5 1207.7 V1199.2 H697.5 V1207.7" fill="none" stroke="#17263d" stroke-width="2" stroke-linejoin="round"/>
<path d="M674.5 1207.7 V1208.9 M697.5 1207.7 V1208.9" fill="none" stroke="#0b1a33" stroke-width="2"/>
<path d="M674.5 1208.9 V1245 M697.5 1208.9 V1245" fill="none" stroke="#222224" stroke-width="2"/>
<rect x="707.1" y="1200" width="24.8" height="6.5" fill="#13a14a"/>
<rect x="707.1" y="1206.5" width="24.8" height="4.1" fill="#0b4ca1"/>
<rect x="707.1" y="1210.6" width="24.8" height="34.4" fill="#8a898c"/>
<path d="M708.1 1206.5 V1201 H730.9 V1206.5" fill="none" stroke="#0d2a16" stroke-width="2" stroke-linejoin="round"/>
<path d="M708.1 1206.5 V1210.6 M730.9 1206.5 V1210.6" fill="none" stroke="#0b1a33" stroke-width="2"/>
<path d="M708.1 1210.6 V1245 M730.9 1210.6 V1245" fill="none" stroke="#222224" stroke-width="2"/>
<rect x="740.5" y="1197.9" width="24.5" height="7.2" fill="#ef9303"/>
<rect x="740.5" y="1205.1" width="24.5" height="4.8" fill="#0b4ca1"/>
<rect x="740.5" y="1209.9" width="24.5" height="35.1" fill="#8a898c"/>
<path d="M741.5 1205.1 V1198.9 H764 V1205.1" fill="none" stroke="#3a2205" stroke-width="2" stroke-linejoin="round"/>
<path d="M741.5 1205.1 V1209.9 M764 1205.1 V1209.9" fill="none" stroke="#0b1a33" stroke-width="2"/>
<path d="M741.5 1209.9 V1245 M764 1209.9 V1245" fill="none" stroke="#222224" stroke-width="2"/>
<rect x="774.2" y="1200" width="24.6" height="6" fill="#ef9303"/>
<rect x="774.2" y="1206" width="24.6" height="3.9" fill="#7eaee0"/>
<rect x="774.2" y="1209.9" width="24.6" height="1.7" fill="#0b4ca1"/>
<rect x="774.2" y="1211.6" width="24.6" height="33.4" fill="#8a898c"/>
<path d="M775.2 1206 V1201 H797.8 V1206" fill="none" stroke="#3a2205" stroke-width="2" stroke-linejoin="round"/>
<path d="M775.2 1206 V1209.9 M797.8 1206 V1209.9" fill="none" stroke="#17263d" stroke-width="2"/>
<path d="M775.2 1209.9 V1211.6 M797.8 1209.9 V1211.6" fill="none" stroke="#0b1a33" stroke-width="2"/>
<path d="M775.2 1211.6 V1245 M797.8 1211.6 V1245" fill="none" stroke="#222224" stroke-width="2"/>
<rect x="807.4" y="1200.8" width="24.9" height="17.7" fill="#13a14a"/>
<rect x="807.4" y="1218.5" width="24.9" height="26.5" fill="#8a898c"/>
<path d="M808.4 1218.5 V1201.8 H831.3 V1218.5" fill="none" stroke="#0d2a16" stroke-width="2" stroke-linejoin="round"/>
<path d="M808.4 1218.5 V1245 M831.3 1218.5 V1245" fill="none" stroke="#222224" stroke-width="2"/>
<rect x="841.3" y="1200" width="24.5" height="19.7" fill="#ef9303"/>
<rect x="841.3" y="1219.7" width="24.5" height="25.3" fill="#8a898c"/>
<path d="M842.3 1219.7 V1201 H864.8 V1219.7" fill="none" stroke="#3a2205" stroke-width="2" stroke-linejoin="round"/>
<path d="M842.3 1219.7 V1245 M864.8 1219.7 V1245" fill="none" stroke="#222224" stroke-width="2"/>
<rect x="874.9" y="1233.5" width="24.8" height="11.5" fill="#0b4ca1"/>
<path d="M875.9 1245 V1234.5 H898.7 V1245" fill="none" stroke="#0b1a33" stroke-width="2" stroke-linejoin="round"/>
<path d="M501.5 1245 V1039.8 H904.1 V1245" fill="none" stroke="#1e1e1e" stroke-width="2" stroke-linejoin="round"/>
<text transform="translate(524.2 1199.6) rotate(-90) scale(0.7 1)" class="lb" textLength="66.43" lengthAdjust="spacing" stroke-width="3.6" style="font-size:19px">ROZ98</text>
<text transform="translate(524.2 1199.6) rotate(-90) scale(0.7 1)" class="lb" textLength="66.43" lengthAdjust="spacing" stroke-width="0.7" style="stroke:#fff;font-size:19px">ROZ98</text>
<text transform="translate(557.95 1193.5) rotate(-90) scale(0.7 1)" class="lb" textLength="36.43" lengthAdjust="spacing" stroke-width="3.6" style="font-size:19px">E20</text>
<text transform="translate(557.95 1193.5) rotate(-90) scale(0.7 1)" class="lb" textLength="36.43" lengthAdjust="spacing" stroke-width="0.7" style="stroke:#fff;font-size:19px">E20</text>
<text transform="translate(591.45 1193.5) rotate(-90) scale(0.7 1)" class="lb" textLength="36.86" lengthAdjust="spacing" stroke-width="3.6" style="font-size:19px">E25</text>
<text transform="translate(591.45 1193.5) rotate(-90) scale(0.7 1)" class="lb" textLength="36.86" lengthAdjust="spacing" stroke-width="0.7" style="stroke:#fff;font-size:19px">E25</text>
<text transform="translate(625.15 1180.6) rotate(-90) scale(0.7 1)" class="lb" textLength="67.86" lengthAdjust="spacing" stroke-width="3.6" style="font-size:19px">M15E5</text>
<text transform="translate(625.15 1180.6) rotate(-90) scale(0.7 1)" class="lb" textLength="67.86" lengthAdjust="spacing" stroke-width="0.7" style="stroke:#fff;font-size:19px">M15E5</text>
<text transform="translate(658.5 1191.8) rotate(-90) scale(0.7 1)" class="lb" textLength="68" lengthAdjust="spacing" stroke-width="3.6" style="font-size:19px">M5E15</text>
<text transform="translate(658.5 1191.8) rotate(-90) scale(0.7 1)" class="lb" textLength="68" lengthAdjust="spacing" stroke-width="0.7" style="stroke:#fff;font-size:19px">M5E15</text>
<text transform="translate(692 1191.8) rotate(-90) scale(0.7 1)" class="lb" textLength="68.29" lengthAdjust="spacing" stroke-width="3.6" style="font-size:19px">M3E20</text>
<text transform="translate(692 1191.8) rotate(-90) scale(0.7 1)" class="lb" textLength="68.29" lengthAdjust="spacing" stroke-width="0.7" style="stroke:#fff;font-size:19px">M3E20</text>
<text transform="translate(725.5 1193.5) rotate(-90) scale(0.7 1)" class="lb" textLength="103.29" lengthAdjust="spacing" stroke-width="3.6" style="font-size:19px">M10,2B15</text>
<text transform="translate(725.5 1193.5) rotate(-90) scale(0.7 1)" class="lb" textLength="103.29" lengthAdjust="spacing" stroke-width="0.7" style="stroke:#fff;font-size:19px">M10,2B15</text>
<text transform="translate(758.75 1193.5) rotate(-90) scale(0.7 1)" class="lb" textLength="95.71" lengthAdjust="spacing" stroke-width="3.6" style="font-size:19px">M10,iB15</text>
<text transform="translate(758.75 1193.5) rotate(-90) scale(0.7 1)" class="lb" textLength="95.71" lengthAdjust="spacing" stroke-width="0.7" style="stroke:#fff;font-size:19px">M10,iB15</text>
<text transform="translate(792.5 1193.5) rotate(-90) scale(0.7 1)" class="lb" textLength="129.14" lengthAdjust="spacing" stroke-width="3.6" style="font-size:19px">M5E10,2B10</text>
<text transform="translate(792.5 1193.5) rotate(-90) scale(0.7 1)" class="lb" textLength="129.14" lengthAdjust="spacing" stroke-width="0.7" style="stroke:#fff;font-size:19px">M5E10,2B10</text>
<text transform="translate(825.85 1195.3) rotate(-90) scale(0.7 1)" class="lb" textLength="52" lengthAdjust="spacing" stroke-width="3.6" style="font-size:19px">2B40</text>
<text transform="translate(825.85 1195.3) rotate(-90) scale(0.7 1)" class="lb" textLength="52" lengthAdjust="spacing" stroke-width="0.7" style="stroke:#fff;font-size:19px">2B40</text>
<text transform="translate(859.55 1195.3) rotate(-90) scale(0.7 1)" class="lb" textLength="46.86" lengthAdjust="spacing" stroke-width="3.6" style="font-size:19px">iB40</text>
<text transform="translate(859.55 1195.3) rotate(-90) scale(0.7 1)" class="lb" textLength="46.86" lengthAdjust="spacing" stroke-width="0.7" style="stroke:#fff;font-size:19px">iB40</text>
<text transform="translate(893.3 1227) rotate(-90) scale(0.7 1)" class="lb" textLength="54.29" lengthAdjust="spacing" stroke-width="3.6" style="font-size:19px">M100</text>
<text transform="translate(893.3 1227) rotate(-90) scale(0.7 1)" class="lb" textLength="54.29" lengthAdjust="spacing" stroke-width="0.7" style="stroke:#fff;font-size:19px">M100</text>
<!-- ticks -->
<text x="62.5" y="107.9" class="tk" textLength="17" lengthAdjust="spacingAndGlyphs">45</text>
<text x="62.5" y="178.1" class="tk" textLength="17" lengthAdjust="spacingAndGlyphs">40</text>
<text x="62.5" y="247.1" class="tk" textLength="17" lengthAdjust="spacingAndGlyphs">35</text>
<text x="62.5" y="316.6" class="tk" textLength="17" lengthAdjust="spacingAndGlyphs">30</text>
<text x="62.5" y="342.1" class="tk" textLength="17" lengthAdjust="spacingAndGlyphs">30</text>
<text x="62.5" y="411.1" class="tk" textLength="17" lengthAdjust="spacingAndGlyphs">20</text>
<text x="62.5" y="481.3" class="tk" style="font-family:'Liberation Serif',serif;font-size:21px;stroke-width:0.3px" textLength="17" lengthAdjust="spacingAndGlyphs">10</text>
<text x="71.3" y="549.8" class="tk" style="font-family:'Liberation Serif',serif;font-size:21px;stroke-width:0.3px" textLength="8.2" lengthAdjust="spacingAndGlyphs">0</text>
<text x="54.5" y="575.3" class="tk" style="font-family:'Liberation Serif',serif;font-size:21px;stroke-width:0.3px" textLength="25" lengthAdjust="spacingAndGlyphs">160</text>
<text x="54.5" y="645.3" class="tk" style="font-family:'Liberation Serif',serif;font-size:21px;stroke-width:0.3px" textLength="25" lengthAdjust="spacingAndGlyphs">120</text>
<text x="62.5" y="714.8" class="tk" style="font-family:'Liberation Serif',serif;font-size:21px;stroke-width:0.3px" textLength="17" lengthAdjust="spacingAndGlyphs">80</text>
<text x="62.5" y="783.3" class="tk" style="font-family:'Liberation Serif',serif;font-size:21px;stroke-width:0.3px" textLength="17" lengthAdjust="spacingAndGlyphs">40</text>
<text x="62.5" y="813.1" class="tk" textLength="17" lengthAdjust="spacingAndGlyphs">30</text>
<text x="62.5" y="882.6" class="tk" textLength="17" lengthAdjust="spacingAndGlyphs">20</text>
<text x="62.5" y="953.3" class="tk" style="font-family:'Liberation Serif',serif;font-size:21px;stroke-width:0.3px" textLength="17" lengthAdjust="spacingAndGlyphs">10</text>
<text x="71.3" y="1020.8" class="tk" style="font-family:'Liberation Serif',serif;font-size:21px;stroke-width:0.3px" textLength="8.2" lengthAdjust="spacingAndGlyphs">0</text>
<text x="62.5" y="1044.8" class="tk" style="font-family:'Liberation Serif',serif;font-size:21px;stroke-width:0.3px" textLength="17" lengthAdjust="spacingAndGlyphs">15</text>
<text x="62.5" y="1115.3" class="tk" style="font-family:'Liberation Serif',serif;font-size:21px;stroke-width:0.3px" textLength="17" lengthAdjust="spacingAndGlyphs">10</text>
<text x="71.3" y="1184.3" class="tk" style="font-family:'Liberation Serif',serif;font-size:21px;stroke-width:0.3px" textLength="8.2" lengthAdjust="spacingAndGlyphs">5</text>
<text x="71.3" y="1253.1" class="tk" style="font-family:'Liberation Serif',serif;font-size:21px;stroke-width:0.3px" textLength="8.2" lengthAdjust="spacingAndGlyphs">0</text>
<text transform="translate(36.6 261) rotate(-90)" style="font-size:18px;font-family:'Liberation Serif','Noto Serif CJK SC',serif;font-weight:700;fill:#1e1e1e" textLength="73.9" lengthAdjust="spacingAndGlyphs">指示效率</text>
<text transform="translate(35.4 167.8) rotate(-90)" style="font-size:18.5px;font-family:'Liberation Mono',monospace;font-weight:normal;fill:#222;stroke:#222;stroke-width:0.35px" textLength="27.8" lengthAdjust="spacingAndGlyphs">[%]</text>
<text transform="translate(12.6 489.6) rotate(-90)" style="font-size:18px;font-family:'Liberation Serif',serif;font-weight:normal;fill:#222;stroke:#222;stroke-width:0.3px" textLength="17.2" lengthAdjust="spacingAndGlyphs">50</text>
<text transform="translate(12.6 463) rotate(-90)" style="font-size:18px;font-family:'Liberation Serif',serif;font-weight:normal;fill:#222;stroke:#222;stroke-width:0.3px" textLength="10" lengthAdjust="spacingAndGlyphs">%</text>
<text transform="translate(12.8 442.8) rotate(-90)" style="font-size:17.5px;font-family:'Liberation Serif','Noto Serif CJK SC',serif;font-weight:700;fill:#1e1e1e" textLength="52.1" lengthAdjust="spacingAndGlyphs">转换点</text>
<text transform="translate(37 526.6) rotate(-90)" style="font-size:17px;font-family:'Liberation Mono',monospace;font-weight:normal;fill:#222;stroke:#222;stroke-width:0.35px" textLength="6.8" lengthAdjust="spacingAndGlyphs">[</text>
<text transform="translate(37 518.4) rotate(-90)" style="font-size:22px;font-family:'Liberation Serif',serif;font-weight:normal;fill:#222;stroke:#222;stroke-width:0.3px" textLength="6.4" lengthAdjust="spacingAndGlyphs">°</text>
<text transform="translate(37 501.6) rotate(-90)" style="font-size:17px;font-family:'Liberation Mono',monospace;font-weight:bold;fill:#222" textLength="17.8" lengthAdjust="spacingAndGlyphs">KW</text>
<text transform="translate(36.7 473.6) rotate(-90)" style="font-size:17.5px;font-family:'Liberation Serif','Noto Serif CJK SC',serif;font-weight:700;fill:#1e1e1e" textLength="108.2" lengthAdjust="spacingAndGlyphs">点火上止点后</text>
<text transform="translate(37 365) rotate(-90)" style="font-size:17px;font-family:'Liberation Mono',monospace;font-weight:normal;fill:#222;stroke:#222;stroke-width:0.35px" textLength="8" lengthAdjust="spacingAndGlyphs">]</text>
<text transform="translate(36.6 760) rotate(-90)" style="font-size:18px;font-family:'Liberation Serif','Noto Serif CJK SC',serif;font-weight:700;fill:#1e1e1e" textLength="109.5" lengthAdjust="spacingAndGlyphs">气缸峰值压力</text>
<text transform="translate(35.4 629.8) rotate(-90)" style="font-size:18.5px;font-family:'Liberation Mono',monospace;font-weight:normal;fill:#222;stroke:#222;stroke-width:0.35px" textLength="44.8" lengthAdjust="spacingAndGlyphs">[bar]</text>
<text transform="translate(36.8 1009.8) rotate(-90)" style="font-size:17px;font-family:'Liberation Serif',serif;font-weight:normal;fill:#222;stroke:#222;stroke-width:0.3px" textLength="20.8" lengthAdjust="spacingAndGlyphs">NO<tspan style="font-size:9px" dy="1.5">x</tspan></text>
<text transform="translate(36.6 978) rotate(-90)" style="font-size:18px;font-family:'Liberation Serif','Noto Serif CJK SC',serif;font-weight:700;fill:#1e1e1e" textLength="90.5" lengthAdjust="spacingAndGlyphs">指示比排放</text>
<text transform="translate(34.8 876.7) rotate(-90)" style="font-size:18.5px;font-family:'Liberation Mono',monospace;font-weight:normal;fill:#222;stroke:#222;stroke-width:0.35px" textLength="62.8" lengthAdjust="spacingAndGlyphs">[g/kWh]</text>
<text transform="translate(36.8 1240.5) rotate(-90)" style="font-size:17px;font-family:'Liberation Serif',serif;font-weight:normal;fill:#222;stroke:#222;stroke-width:0.3px" textLength="18.3" lengthAdjust="spacingAndGlyphs">HC</text>
<text transform="translate(36.6 1213) rotate(-90)" style="font-size:18px;font-family:'Liberation Serif','Noto Serif CJK SC',serif;font-weight:700;fill:#1e1e1e" textLength="90.6" lengthAdjust="spacingAndGlyphs">指示比排放</text>
<text transform="translate(34.8 1111) rotate(-90)" style="font-size:18.5px;font-family:'Liberation Mono',monospace;font-weight:normal;fill:#222;stroke:#222;stroke-width:0.35px" textLength="63.2" lengthAdjust="spacingAndGlyphs">[g/kWh]</text>
<text class="cj" x="264.6" y="1271" font-size="22" textLength="16.6" lengthAdjust="spacingAndGlyphs" style="fill:#3a3a3a;font-weight:normal">12</text>
<text class="cj" x="420" y="1268.5" font-size="17.5" font-weight="bold" textLength="106" lengthAdjust="spacingAndGlyphs">平均指示压力</text>
<text x="546.6" y="1267.6" textLength="45" lengthAdjust="spacingAndGlyphs" style="font-family:'Liberation Mono',monospace;font-size:18.5px;fill:#222;stroke:#222;stroke-width:0.35px">[bar]</text>
<text class="cj" x="678.3" y="1271.2" font-size="22" textLength="17.4" lengthAdjust="spacingAndGlyphs" style="fill:#3a3a3a;font-weight:normal">18</text>
<g opacity="0.95">
<text x="745.5" y="1247" font-family="Liberation Sans,'Noto Sans CJK SC',sans-serif" font-size="22.5" textLength="134" lengthAdjust="spacingAndGlyphs" fill="#fff" stroke="#6a6a6a" stroke-width="2.2" paint-order="stroke" stroke-linejoin="round">汽车与新动力</text>
<g fill="#fafafa" stroke="#8a8a8a" stroke-width="1.4">
<path d="M716 1221.8c-7.3 0-12.3 4.8-12.3 10.5 0 3.3 1.8 6.1 4.6 8l-1.3 3.8 4.5-2.4c1.4.4 2.9.6 4.5.6 7.3 0 12.3-4.8 12.3-10.5s-5-10-12.3-10z"/>
<path d="M728.8 1230.4c-6.2 0-10.8 4.1-10.8 9.1s4.6 9.1 10.8 9.1c1.2 0 2.4-.2 3.5-.5l3.9 2-1.1-3.3c2.6-1.6 4.3-4.2 4.3-7.3 0-5-4.5-9.1-10.6-9.1z"/>
</g>
<g fill="#888"><circle cx="712" cy="1229.3" r="1.4"/><circle cx="720.5" cy="1229.3" r="1.4"/><circle cx="725" cy="1237.6" r="1.2"/><circle cx="732.4" cy="1237.6" r="1.2"/></g>
</g>
</svg>
</body></html>
